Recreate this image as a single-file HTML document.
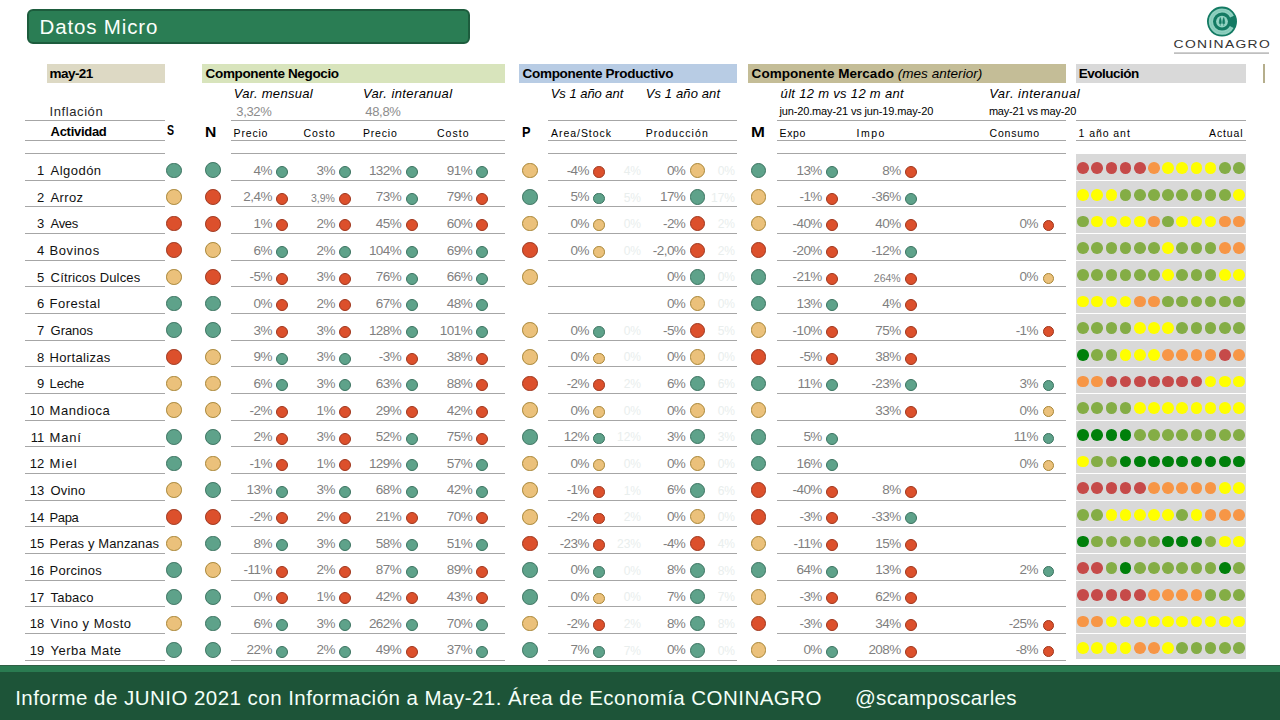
<!DOCTYPE html>
<html><head><meta charset="utf-8"><style>
*{margin:0;padding:0;box-sizing:content-box}
html,body{width:1280px;height:720px;overflow:hidden;background:#fff}
body{position:relative;font-family:"Liberation Sans", sans-serif;}
.t{position:absolute;line-height:1;white-space:nowrap;}
.r{position:absolute;}
.d{position:absolute;border-radius:50%;}
.title{position:absolute;left:27px;top:9px;width:439px;height:30.6px;background:#2a7d54;border:2px solid #1d5c3d;border-radius:6px;}
.title span{position:absolute;left:11.5px;top:5.00px;font-size:21.5px;line-height:1;color:#fbfffb;letter-spacing:0.45px;white-space:nowrap}
</style></head><body>
<div class="title"></div>
<div class="r" style="left:47.00px;top:64.00px;width:118.00px;height:19.00px;background:#ddd9c4;"></div>
<div class="r" style="left:202.00px;top:64.00px;width:303.00px;height:19.00px;background:#d8e4bc;"></div>
<div class="r" style="left:519.00px;top:64.00px;width:218.00px;height:19.00px;background:#b8cce4;"></div>
<div class="r" style="left:748.00px;top:64.00px;width:318.00px;height:19.00px;background:#c4bd97;"></div>
<div class="r" style="left:1076.00px;top:64.00px;width:170.00px;height:19.00px;background:#d9d9d9;"></div>
<div class="r" style="left:1263.00px;top:64.00px;width:1.50px;height:19.00px;background:#b5ae8c;"></div>
<div class="r" style="left:25.00px;top:120.20px;width:140.00px;height:1.00px;background:#a6a6a6;"></div>
<div class="r" style="left:25.00px;top:140.20px;width:140.00px;height:1.00px;background:#a6a6a6;"></div>
<div class="r" style="left:25.00px;top:153.00px;width:140.00px;height:1.00px;background:#a6a6a6;"></div>
<div class="r" style="left:25.00px;top:179.66px;width:140.00px;height:1.00px;background:#a6a6a6;"></div>
<div class="r" style="left:25.00px;top:206.32px;width:140.00px;height:1.00px;background:#a6a6a6;"></div>
<div class="r" style="left:25.00px;top:232.98px;width:140.00px;height:1.00px;background:#a6a6a6;"></div>
<div class="r" style="left:25.00px;top:259.64px;width:140.00px;height:1.00px;background:#a6a6a6;"></div>
<div class="r" style="left:25.00px;top:286.30px;width:140.00px;height:1.00px;background:#a6a6a6;"></div>
<div class="r" style="left:25.00px;top:312.96px;width:140.00px;height:1.00px;background:#a6a6a6;"></div>
<div class="r" style="left:25.00px;top:339.62px;width:140.00px;height:1.00px;background:#a6a6a6;"></div>
<div class="r" style="left:25.00px;top:366.28px;width:140.00px;height:1.00px;background:#a6a6a6;"></div>
<div class="r" style="left:25.00px;top:392.94px;width:140.00px;height:1.00px;background:#a6a6a6;"></div>
<div class="r" style="left:25.00px;top:419.60px;width:140.00px;height:1.00px;background:#a6a6a6;"></div>
<div class="r" style="left:25.00px;top:446.26px;width:140.00px;height:1.00px;background:#a6a6a6;"></div>
<div class="r" style="left:25.00px;top:472.92px;width:140.00px;height:1.00px;background:#a6a6a6;"></div>
<div class="r" style="left:25.00px;top:499.58px;width:140.00px;height:1.00px;background:#a6a6a6;"></div>
<div class="r" style="left:25.00px;top:526.24px;width:140.00px;height:1.00px;background:#a6a6a6;"></div>
<div class="r" style="left:25.00px;top:552.90px;width:140.00px;height:1.00px;background:#a6a6a6;"></div>
<div class="r" style="left:25.00px;top:579.56px;width:140.00px;height:1.00px;background:#a6a6a6;"></div>
<div class="r" style="left:25.00px;top:606.22px;width:140.00px;height:1.00px;background:#a6a6a6;"></div>
<div class="r" style="left:25.00px;top:632.88px;width:140.00px;height:1.00px;background:#a6a6a6;"></div>
<div class="r" style="left:25.00px;top:659.54px;width:140.00px;height:1.00px;background:#a6a6a6;"></div>
<div class="r" style="left:231.30px;top:120.20px;width:273.70px;height:1.00px;background:#a6a6a6;"></div>
<div class="r" style="left:231.30px;top:140.20px;width:273.70px;height:1.00px;background:#a6a6a6;"></div>
<div class="r" style="left:231.30px;top:153.00px;width:273.70px;height:1.00px;background:#a6a6a6;"></div>
<div class="r" style="left:231.30px;top:179.66px;width:273.70px;height:1.00px;background:#a6a6a6;"></div>
<div class="r" style="left:231.30px;top:206.32px;width:273.70px;height:1.00px;background:#a6a6a6;"></div>
<div class="r" style="left:231.30px;top:232.98px;width:273.70px;height:1.00px;background:#a6a6a6;"></div>
<div class="r" style="left:231.30px;top:259.64px;width:273.70px;height:1.00px;background:#a6a6a6;"></div>
<div class="r" style="left:231.30px;top:286.30px;width:273.70px;height:1.00px;background:#a6a6a6;"></div>
<div class="r" style="left:231.30px;top:312.96px;width:273.70px;height:1.00px;background:#a6a6a6;"></div>
<div class="r" style="left:231.30px;top:339.62px;width:273.70px;height:1.00px;background:#a6a6a6;"></div>
<div class="r" style="left:231.30px;top:366.28px;width:273.70px;height:1.00px;background:#a6a6a6;"></div>
<div class="r" style="left:231.30px;top:392.94px;width:273.70px;height:1.00px;background:#a6a6a6;"></div>
<div class="r" style="left:231.30px;top:419.60px;width:273.70px;height:1.00px;background:#a6a6a6;"></div>
<div class="r" style="left:231.30px;top:446.26px;width:273.70px;height:1.00px;background:#a6a6a6;"></div>
<div class="r" style="left:231.30px;top:472.92px;width:273.70px;height:1.00px;background:#a6a6a6;"></div>
<div class="r" style="left:231.30px;top:499.58px;width:273.70px;height:1.00px;background:#a6a6a6;"></div>
<div class="r" style="left:231.30px;top:526.24px;width:273.70px;height:1.00px;background:#a6a6a6;"></div>
<div class="r" style="left:231.30px;top:552.90px;width:273.70px;height:1.00px;background:#a6a6a6;"></div>
<div class="r" style="left:231.30px;top:579.56px;width:273.70px;height:1.00px;background:#a6a6a6;"></div>
<div class="r" style="left:231.30px;top:606.22px;width:273.70px;height:1.00px;background:#a6a6a6;"></div>
<div class="r" style="left:231.30px;top:632.88px;width:273.70px;height:1.00px;background:#a6a6a6;"></div>
<div class="r" style="left:231.30px;top:659.54px;width:273.70px;height:1.00px;background:#a6a6a6;"></div>
<div class="r" style="left:548.30px;top:120.20px;width:188.70px;height:1.00px;background:#a6a6a6;"></div>
<div class="r" style="left:548.30px;top:140.20px;width:188.70px;height:1.00px;background:#a6a6a6;"></div>
<div class="r" style="left:548.30px;top:153.00px;width:188.70px;height:1.00px;background:#a6a6a6;"></div>
<div class="r" style="left:548.30px;top:179.66px;width:188.70px;height:1.00px;background:#a6a6a6;"></div>
<div class="r" style="left:548.30px;top:206.32px;width:188.70px;height:1.00px;background:#a6a6a6;"></div>
<div class="r" style="left:548.30px;top:232.98px;width:188.70px;height:1.00px;background:#a6a6a6;"></div>
<div class="r" style="left:548.30px;top:259.64px;width:188.70px;height:1.00px;background:#a6a6a6;"></div>
<div class="r" style="left:548.30px;top:286.30px;width:188.70px;height:1.00px;background:#a6a6a6;"></div>
<div class="r" style="left:548.30px;top:312.96px;width:188.70px;height:1.00px;background:#a6a6a6;"></div>
<div class="r" style="left:548.30px;top:339.62px;width:188.70px;height:1.00px;background:#a6a6a6;"></div>
<div class="r" style="left:548.30px;top:366.28px;width:188.70px;height:1.00px;background:#a6a6a6;"></div>
<div class="r" style="left:548.30px;top:392.94px;width:188.70px;height:1.00px;background:#a6a6a6;"></div>
<div class="r" style="left:548.30px;top:419.60px;width:188.70px;height:1.00px;background:#a6a6a6;"></div>
<div class="r" style="left:548.30px;top:446.26px;width:188.70px;height:1.00px;background:#a6a6a6;"></div>
<div class="r" style="left:548.30px;top:472.92px;width:188.70px;height:1.00px;background:#a6a6a6;"></div>
<div class="r" style="left:548.30px;top:499.58px;width:188.70px;height:1.00px;background:#a6a6a6;"></div>
<div class="r" style="left:548.30px;top:526.24px;width:188.70px;height:1.00px;background:#a6a6a6;"></div>
<div class="r" style="left:548.30px;top:552.90px;width:188.70px;height:1.00px;background:#a6a6a6;"></div>
<div class="r" style="left:548.30px;top:579.56px;width:188.70px;height:1.00px;background:#a6a6a6;"></div>
<div class="r" style="left:548.30px;top:606.22px;width:188.70px;height:1.00px;background:#a6a6a6;"></div>
<div class="r" style="left:548.30px;top:632.88px;width:188.70px;height:1.00px;background:#a6a6a6;"></div>
<div class="r" style="left:548.30px;top:659.54px;width:188.70px;height:1.00px;background:#a6a6a6;"></div>
<div class="r" style="left:777.30px;top:120.20px;width:288.70px;height:1.00px;background:#a6a6a6;"></div>
<div class="r" style="left:777.30px;top:140.20px;width:288.70px;height:1.00px;background:#a6a6a6;"></div>
<div class="r" style="left:777.30px;top:153.00px;width:288.70px;height:1.00px;background:#a6a6a6;"></div>
<div class="r" style="left:777.30px;top:179.66px;width:288.70px;height:1.00px;background:#a6a6a6;"></div>
<div class="r" style="left:777.30px;top:206.32px;width:288.70px;height:1.00px;background:#a6a6a6;"></div>
<div class="r" style="left:777.30px;top:232.98px;width:288.70px;height:1.00px;background:#a6a6a6;"></div>
<div class="r" style="left:777.30px;top:259.64px;width:288.70px;height:1.00px;background:#a6a6a6;"></div>
<div class="r" style="left:777.30px;top:286.30px;width:288.70px;height:1.00px;background:#a6a6a6;"></div>
<div class="r" style="left:777.30px;top:312.96px;width:288.70px;height:1.00px;background:#a6a6a6;"></div>
<div class="r" style="left:777.30px;top:339.62px;width:288.70px;height:1.00px;background:#a6a6a6;"></div>
<div class="r" style="left:777.30px;top:366.28px;width:288.70px;height:1.00px;background:#a6a6a6;"></div>
<div class="r" style="left:777.30px;top:392.94px;width:288.70px;height:1.00px;background:#a6a6a6;"></div>
<div class="r" style="left:777.30px;top:419.60px;width:288.70px;height:1.00px;background:#a6a6a6;"></div>
<div class="r" style="left:777.30px;top:446.26px;width:288.70px;height:1.00px;background:#a6a6a6;"></div>
<div class="r" style="left:777.30px;top:472.92px;width:288.70px;height:1.00px;background:#a6a6a6;"></div>
<div class="r" style="left:777.30px;top:499.58px;width:288.70px;height:1.00px;background:#a6a6a6;"></div>
<div class="r" style="left:777.30px;top:526.24px;width:288.70px;height:1.00px;background:#a6a6a6;"></div>
<div class="r" style="left:777.30px;top:552.90px;width:288.70px;height:1.00px;background:#a6a6a6;"></div>
<div class="r" style="left:777.30px;top:579.56px;width:288.70px;height:1.00px;background:#a6a6a6;"></div>
<div class="r" style="left:777.30px;top:606.22px;width:288.70px;height:1.00px;background:#a6a6a6;"></div>
<div class="r" style="left:777.30px;top:632.88px;width:288.70px;height:1.00px;background:#a6a6a6;"></div>
<div class="r" style="left:777.30px;top:659.54px;width:288.70px;height:1.00px;background:#a6a6a6;"></div>
<div class="r" style="left:1076.00px;top:120.20px;width:170.00px;height:1.00px;background:#a6a6a6;"></div>
<div class="r" style="left:1076.00px;top:140.20px;width:170.00px;height:1.00px;background:#a6a6a6;"></div>
<div class="r" style="left:1076.00px;top:153.90px;width:170.00px;height:505.10px;background:#d9d9d9;"></div>
<div class="r" style="left:1076.00px;top:180.00px;width:170.00px;height:1.00px;background:#ffffff;"></div>
<div class="r" style="left:1076.00px;top:207.00px;width:170.00px;height:1.00px;background:#ffffff;"></div>
<div class="r" style="left:1076.00px;top:233.00px;width:170.00px;height:1.00px;background:#ffffff;"></div>
<div class="r" style="left:1076.00px;top:260.00px;width:170.00px;height:1.00px;background:#ffffff;"></div>
<div class="r" style="left:1076.00px;top:287.00px;width:170.00px;height:1.00px;background:#ffffff;"></div>
<div class="r" style="left:1076.00px;top:313.00px;width:170.00px;height:1.00px;background:#ffffff;"></div>
<div class="r" style="left:1076.00px;top:340.00px;width:170.00px;height:1.00px;background:#ffffff;"></div>
<div class="r" style="left:1076.00px;top:367.00px;width:170.00px;height:1.00px;background:#ffffff;"></div>
<div class="r" style="left:1076.00px;top:393.00px;width:170.00px;height:1.00px;background:#ffffff;"></div>
<div class="r" style="left:1076.00px;top:420.00px;width:170.00px;height:1.00px;background:#ffffff;"></div>
<div class="r" style="left:1076.00px;top:447.00px;width:170.00px;height:1.00px;background:#ffffff;"></div>
<div class="r" style="left:1076.00px;top:473.00px;width:170.00px;height:1.00px;background:#ffffff;"></div>
<div class="r" style="left:1076.00px;top:500.00px;width:170.00px;height:1.00px;background:#ffffff;"></div>
<div class="r" style="left:1076.00px;top:527.00px;width:170.00px;height:1.00px;background:#ffffff;"></div>
<div class="r" style="left:1076.00px;top:553.00px;width:170.00px;height:1.00px;background:#ffffff;"></div>
<div class="r" style="left:1076.00px;top:580.00px;width:170.00px;height:1.00px;background:#ffffff;"></div>
<div class="r" style="left:1076.00px;top:607.00px;width:170.00px;height:1.00px;background:#ffffff;"></div>
<div class="r" style="left:1076.00px;top:633.00px;width:170.00px;height:1.00px;background:#ffffff;"></div>
<div class="t" style="top:164.00px;font-size:13px;color:#111;right:1235.80px;text-align:right;">1</div>
<div class="d" style="left:166.10px;top:162.50px;width:13.60px;height:13.60px;background:#5ea28a;border:1px solid #3a725f;"></div>
<div class="d" style="left:205.00px;top:162.40px;width:13.80px;height:13.80px;background:#5ea28a;border:1px solid #3a725f;"></div>
<div class="t" style="top:163.57px;font-size:13.5px;color:#7f7f7f;letter-spacing:-0.55px;right:1008.10px;text-align:right;">4%</div>
<div class="d" style="left:276.00px;top:165.90px;width:10.00px;height:10.00px;background:#5ea28a;border:1px solid #3a725f;"></div>
<div class="t" style="top:163.57px;font-size:13.5px;color:#7f7f7f;letter-spacing:-0.55px;right:945.10px;text-align:right;">3%</div>
<div class="d" style="left:338.80px;top:165.90px;width:10.00px;height:10.00px;background:#5ea28a;border:1px solid #3a725f;"></div>
<div class="t" style="top:163.57px;font-size:13.5px;color:#7f7f7f;letter-spacing:-0.55px;right:878.80px;text-align:right;">132%</div>
<div class="d" style="left:405.50px;top:165.90px;width:10.00px;height:10.00px;background:#5ea28a;border:1px solid #3a725f;"></div>
<div class="t" style="top:163.57px;font-size:13.5px;color:#7f7f7f;letter-spacing:-0.55px;right:807.90px;text-align:right;">91%</div>
<div class="d" style="left:476.00px;top:165.90px;width:10.00px;height:10.00px;background:#5ea28a;border:1px solid #3a725f;"></div>
<div class="d" style="left:522.20px;top:162.50px;width:13.60px;height:13.60px;background:#ebc17b;border:1px solid #a88535;"></div>
<div class="t" style="top:163.57px;font-size:13.5px;color:#7f7f7f;letter-spacing:-0.55px;right:691.00px;text-align:right;">-4%</div>
<div class="d" style="left:593.20px;top:166.10px;width:9.60px;height:9.60px;background:#dc502c;border:1px solid #9e351b;"></div>
<div class="t" style="top:164.84px;font-size:12px;color:#e9eeed;right:639.00px;text-align:right;">4%</div>
<div class="t" style="top:163.57px;font-size:13.5px;color:#7f7f7f;letter-spacing:-0.55px;right:594.70px;text-align:right;">0%</div>
<div class="d" style="left:689.60px;top:162.70px;width:13.20px;height:13.20px;background:#ebc17b;border:1px solid #a88535;"></div>
<div class="t" style="top:164.84px;font-size:12px;color:#e9eeed;right:545.00px;text-align:right;">0%</div>
<div class="d" style="left:750.70px;top:162.50px;width:13.60px;height:13.60px;background:#5ea28a;border:1px solid #3a725f;"></div>
<div class="t" style="top:163.57px;font-size:13.5px;color:#7f7f7f;letter-spacing:-0.55px;right:458.20px;text-align:right;">13%</div>
<div class="d" style="left:825.90px;top:165.90px;width:10.00px;height:10.00px;background:#5ea28a;border:1px solid #3a725f;"></div>
<div class="t" style="top:163.57px;font-size:13.5px;color:#7f7f7f;letter-spacing:-0.55px;right:379.30px;text-align:right;">8%</div>
<div class="d" style="left:904.80px;top:165.90px;width:10.00px;height:10.00px;background:#dc502c;border:1px solid #9e351b;"></div>
<div class="d" style="left:1077.25px;top:162.45px;width:11.70px;height:11.70px;background:#c64a49;"></div>
<div class="d" style="left:1091.42px;top:162.45px;width:11.70px;height:11.70px;background:#c64a49;"></div>
<div class="d" style="left:1105.59px;top:162.45px;width:11.70px;height:11.70px;background:#c64a49;"></div>
<div class="d" style="left:1119.76px;top:162.45px;width:11.70px;height:11.70px;background:#c64a49;"></div>
<div class="d" style="left:1133.93px;top:162.45px;width:11.70px;height:11.70px;background:#c64a49;"></div>
<div class="d" style="left:1148.10px;top:162.45px;width:11.70px;height:11.70px;background:#f79646;"></div>
<div class="d" style="left:1162.27px;top:162.45px;width:11.70px;height:11.70px;background:#ffff00;"></div>
<div class="d" style="left:1176.44px;top:162.45px;width:11.70px;height:11.70px;background:#ffff00;"></div>
<div class="d" style="left:1190.61px;top:162.45px;width:11.70px;height:11.70px;background:#ffff00;"></div>
<div class="d" style="left:1204.78px;top:162.45px;width:11.70px;height:11.70px;background:#ffff00;"></div>
<div class="d" style="left:1218.95px;top:162.45px;width:11.70px;height:11.70px;background:#84ad45;"></div>
<div class="d" style="left:1233.12px;top:162.45px;width:11.70px;height:11.70px;background:#84ad45;"></div>
<div class="t" style="top:190.66px;font-size:13px;color:#111;right:1235.80px;text-align:right;">2</div>
<div class="d" style="left:166.10px;top:189.16px;width:13.60px;height:13.60px;background:#ebc17b;border:1px solid #a88535;"></div>
<div class="d" style="left:205.00px;top:189.06px;width:13.80px;height:13.80px;background:#dc502c;border:1px solid #9e351b;"></div>
<div class="t" style="top:190.23px;font-size:13.5px;color:#7f7f7f;letter-spacing:-0.55px;right:1008.10px;text-align:right;">2,4%</div>
<div class="d" style="left:276.00px;top:192.56px;width:10.00px;height:10.00px;background:#dc502c;border:1px solid #9e351b;"></div>
<div class="t" style="top:192.77px;font-size:10.5px;color:#7f7f7f;right:945.10px;text-align:right;">3,9%</div>
<div class="d" style="left:338.80px;top:192.56px;width:10.00px;height:10.00px;background:#dc502c;border:1px solid #9e351b;"></div>
<div class="t" style="top:190.23px;font-size:13.5px;color:#7f7f7f;letter-spacing:-0.55px;right:878.80px;text-align:right;">73%</div>
<div class="d" style="left:405.50px;top:192.56px;width:10.00px;height:10.00px;background:#5ea28a;border:1px solid #3a725f;"></div>
<div class="t" style="top:190.23px;font-size:13.5px;color:#7f7f7f;letter-spacing:-0.55px;right:807.90px;text-align:right;">79%</div>
<div class="d" style="left:476.00px;top:192.56px;width:10.00px;height:10.00px;background:#dc502c;border:1px solid #9e351b;"></div>
<div class="d" style="left:522.20px;top:189.16px;width:13.60px;height:13.60px;background:#5ea28a;border:1px solid #3a725f;"></div>
<div class="t" style="top:190.23px;font-size:13.5px;color:#7f7f7f;letter-spacing:-0.55px;right:691.00px;text-align:right;">5%</div>
<div class="d" style="left:593.20px;top:192.76px;width:9.60px;height:9.60px;background:#5ea28a;border:1px solid #3a725f;"></div>
<div class="t" style="top:191.50px;font-size:12px;color:#e9eeed;right:639.00px;text-align:right;">5%</div>
<div class="t" style="top:190.23px;font-size:13.5px;color:#7f7f7f;letter-spacing:-0.55px;right:594.70px;text-align:right;">17%</div>
<div class="d" style="left:689.60px;top:189.36px;width:13.20px;height:13.20px;background:#5ea28a;border:1px solid #3a725f;"></div>
<div class="t" style="top:191.50px;font-size:12px;color:#e9eeed;right:545.00px;text-align:right;">17%</div>
<div class="d" style="left:750.70px;top:189.16px;width:13.60px;height:13.60px;background:#ebc17b;border:1px solid #a88535;"></div>
<div class="t" style="top:190.23px;font-size:13.5px;color:#7f7f7f;letter-spacing:-0.55px;right:458.20px;text-align:right;">-1%</div>
<div class="d" style="left:825.90px;top:192.56px;width:10.00px;height:10.00px;background:#dc502c;border:1px solid #9e351b;"></div>
<div class="t" style="top:190.23px;font-size:13.5px;color:#7f7f7f;letter-spacing:-0.55px;right:379.30px;text-align:right;">-36%</div>
<div class="d" style="left:904.80px;top:192.56px;width:10.00px;height:10.00px;background:#5ea28a;border:1px solid #3a725f;"></div>
<div class="d" style="left:1077.25px;top:189.11px;width:11.70px;height:11.70px;background:#ffff00;"></div>
<div class="d" style="left:1091.42px;top:189.11px;width:11.70px;height:11.70px;background:#ffff00;"></div>
<div class="d" style="left:1105.59px;top:189.11px;width:11.70px;height:11.70px;background:#ffff00;"></div>
<div class="d" style="left:1119.76px;top:189.11px;width:11.70px;height:11.70px;background:#84ad45;"></div>
<div class="d" style="left:1133.93px;top:189.11px;width:11.70px;height:11.70px;background:#84ad45;"></div>
<div class="d" style="left:1148.10px;top:189.11px;width:11.70px;height:11.70px;background:#84ad45;"></div>
<div class="d" style="left:1162.27px;top:189.11px;width:11.70px;height:11.70px;background:#84ad45;"></div>
<div class="d" style="left:1176.44px;top:189.11px;width:11.70px;height:11.70px;background:#84ad45;"></div>
<div class="d" style="left:1190.61px;top:189.11px;width:11.70px;height:11.70px;background:#84ad45;"></div>
<div class="d" style="left:1204.78px;top:189.11px;width:11.70px;height:11.70px;background:#84ad45;"></div>
<div class="d" style="left:1218.95px;top:189.11px;width:11.70px;height:11.70px;background:#84ad45;"></div>
<div class="d" style="left:1233.12px;top:189.11px;width:11.70px;height:11.70px;background:#ffff00;"></div>
<div class="t" style="top:217.32px;font-size:13px;color:#111;right:1235.80px;text-align:right;">3</div>
<div class="d" style="left:166.10px;top:215.82px;width:13.60px;height:13.60px;background:#dc502c;border:1px solid #9e351b;"></div>
<div class="d" style="left:205.00px;top:215.72px;width:13.80px;height:13.80px;background:#dc502c;border:1px solid #9e351b;"></div>
<div class="t" style="top:216.89px;font-size:13.5px;color:#7f7f7f;letter-spacing:-0.55px;right:1008.10px;text-align:right;">1%</div>
<div class="d" style="left:276.00px;top:219.22px;width:10.00px;height:10.00px;background:#dc502c;border:1px solid #9e351b;"></div>
<div class="t" style="top:216.89px;font-size:13.5px;color:#7f7f7f;letter-spacing:-0.55px;right:945.10px;text-align:right;">2%</div>
<div class="d" style="left:338.80px;top:219.22px;width:10.00px;height:10.00px;background:#dc502c;border:1px solid #9e351b;"></div>
<div class="t" style="top:216.89px;font-size:13.5px;color:#7f7f7f;letter-spacing:-0.55px;right:878.80px;text-align:right;">45%</div>
<div class="d" style="left:405.50px;top:219.22px;width:10.00px;height:10.00px;background:#dc502c;border:1px solid #9e351b;"></div>
<div class="t" style="top:216.89px;font-size:13.5px;color:#7f7f7f;letter-spacing:-0.55px;right:807.90px;text-align:right;">60%</div>
<div class="d" style="left:476.00px;top:219.22px;width:10.00px;height:10.00px;background:#dc502c;border:1px solid #9e351b;"></div>
<div class="d" style="left:522.20px;top:215.82px;width:13.60px;height:13.60px;background:#ebc17b;border:1px solid #a88535;"></div>
<div class="t" style="top:216.89px;font-size:13.5px;color:#7f7f7f;letter-spacing:-0.55px;right:691.00px;text-align:right;">0%</div>
<div class="d" style="left:593.20px;top:219.42px;width:9.60px;height:9.60px;background:#ebc17b;border:1px solid #a88535;"></div>
<div class="t" style="top:218.16px;font-size:12px;color:#e9eeed;right:639.00px;text-align:right;">0%</div>
<div class="t" style="top:216.89px;font-size:13.5px;color:#7f7f7f;letter-spacing:-0.55px;right:594.70px;text-align:right;">-2%</div>
<div class="d" style="left:689.60px;top:216.02px;width:13.20px;height:13.20px;background:#dc502c;border:1px solid #9e351b;"></div>
<div class="t" style="top:218.16px;font-size:12px;color:#e9eeed;right:545.00px;text-align:right;">2%</div>
<div class="d" style="left:750.70px;top:215.82px;width:13.60px;height:13.60px;background:#ebc17b;border:1px solid #a88535;"></div>
<div class="t" style="top:216.89px;font-size:13.5px;color:#7f7f7f;letter-spacing:-0.55px;right:458.20px;text-align:right;">-40%</div>
<div class="d" style="left:825.90px;top:219.22px;width:10.00px;height:10.00px;background:#dc502c;border:1px solid #9e351b;"></div>
<div class="t" style="top:216.89px;font-size:13.5px;color:#7f7f7f;letter-spacing:-0.55px;right:379.30px;text-align:right;">40%</div>
<div class="d" style="left:904.80px;top:219.22px;width:10.00px;height:10.00px;background:#dc502c;border:1px solid #9e351b;"></div>
<div class="t" style="top:216.89px;font-size:13.5px;color:#7f7f7f;letter-spacing:-0.55px;right:242.00px;text-align:right;">0%</div>
<div class="d" style="left:1042.60px;top:219.72px;width:9.00px;height:9.00px;background:#dc502c;border:1px solid #9e351b;"></div>
<div class="d" style="left:1077.25px;top:215.77px;width:11.70px;height:11.70px;background:#84ad45;"></div>
<div class="d" style="left:1091.42px;top:215.77px;width:11.70px;height:11.70px;background:#ffff00;"></div>
<div class="d" style="left:1105.59px;top:215.77px;width:11.70px;height:11.70px;background:#ffff00;"></div>
<div class="d" style="left:1119.76px;top:215.77px;width:11.70px;height:11.70px;background:#ffff00;"></div>
<div class="d" style="left:1133.93px;top:215.77px;width:11.70px;height:11.70px;background:#ffff00;"></div>
<div class="d" style="left:1148.10px;top:215.77px;width:11.70px;height:11.70px;background:#f79646;"></div>
<div class="d" style="left:1162.27px;top:215.77px;width:11.70px;height:11.70px;background:#84ad45;"></div>
<div class="d" style="left:1176.44px;top:215.77px;width:11.70px;height:11.70px;background:#ffff00;"></div>
<div class="d" style="left:1190.61px;top:215.77px;width:11.70px;height:11.70px;background:#ffff00;"></div>
<div class="d" style="left:1204.78px;top:215.77px;width:11.70px;height:11.70px;background:#ffff00;"></div>
<div class="d" style="left:1218.95px;top:215.77px;width:11.70px;height:11.70px;background:#f79646;"></div>
<div class="d" style="left:1233.12px;top:215.77px;width:11.70px;height:11.70px;background:#f79646;"></div>
<div class="t" style="top:243.98px;font-size:13px;color:#111;right:1235.80px;text-align:right;">4</div>
<div class="d" style="left:166.10px;top:242.48px;width:13.60px;height:13.60px;background:#dc502c;border:1px solid #9e351b;"></div>
<div class="d" style="left:205.00px;top:242.38px;width:13.80px;height:13.80px;background:#ebc17b;border:1px solid #a88535;"></div>
<div class="t" style="top:243.55px;font-size:13.5px;color:#7f7f7f;letter-spacing:-0.55px;right:1008.10px;text-align:right;">6%</div>
<div class="d" style="left:276.00px;top:245.88px;width:10.00px;height:10.00px;background:#5ea28a;border:1px solid #3a725f;"></div>
<div class="t" style="top:243.55px;font-size:13.5px;color:#7f7f7f;letter-spacing:-0.55px;right:945.10px;text-align:right;">2%</div>
<div class="d" style="left:338.80px;top:245.88px;width:10.00px;height:10.00px;background:#5ea28a;border:1px solid #3a725f;"></div>
<div class="t" style="top:243.55px;font-size:13.5px;color:#7f7f7f;letter-spacing:-0.55px;right:878.80px;text-align:right;">104%</div>
<div class="d" style="left:405.50px;top:245.88px;width:10.00px;height:10.00px;background:#5ea28a;border:1px solid #3a725f;"></div>
<div class="t" style="top:243.55px;font-size:13.5px;color:#7f7f7f;letter-spacing:-0.55px;right:807.90px;text-align:right;">69%</div>
<div class="d" style="left:476.00px;top:245.88px;width:10.00px;height:10.00px;background:#5ea28a;border:1px solid #3a725f;"></div>
<div class="d" style="left:522.20px;top:242.48px;width:13.60px;height:13.60px;background:#dc502c;border:1px solid #9e351b;"></div>
<div class="t" style="top:243.55px;font-size:13.5px;color:#7f7f7f;letter-spacing:-0.55px;right:691.00px;text-align:right;">0%</div>
<div class="d" style="left:593.20px;top:246.08px;width:9.60px;height:9.60px;background:#ebc17b;border:1px solid #a88535;"></div>
<div class="t" style="top:244.82px;font-size:12px;color:#e9eeed;right:639.00px;text-align:right;">0%</div>
<div class="t" style="top:243.55px;font-size:13.5px;color:#7f7f7f;letter-spacing:-0.55px;right:594.70px;text-align:right;">-2,0%</div>
<div class="d" style="left:689.60px;top:242.68px;width:13.20px;height:13.20px;background:#dc502c;border:1px solid #9e351b;"></div>
<div class="t" style="top:244.82px;font-size:12px;color:#e9eeed;right:545.00px;text-align:right;">2%</div>
<div class="d" style="left:750.70px;top:242.48px;width:13.60px;height:13.60px;background:#dc502c;border:1px solid #9e351b;"></div>
<div class="t" style="top:243.55px;font-size:13.5px;color:#7f7f7f;letter-spacing:-0.55px;right:458.20px;text-align:right;">-20%</div>
<div class="d" style="left:825.90px;top:245.88px;width:10.00px;height:10.00px;background:#dc502c;border:1px solid #9e351b;"></div>
<div class="t" style="top:243.55px;font-size:13.5px;color:#7f7f7f;letter-spacing:-0.55px;right:379.30px;text-align:right;">-12%</div>
<div class="d" style="left:904.80px;top:245.88px;width:10.00px;height:10.00px;background:#5ea28a;border:1px solid #3a725f;"></div>
<div class="d" style="left:1077.25px;top:242.43px;width:11.70px;height:11.70px;background:#84ad45;"></div>
<div class="d" style="left:1091.42px;top:242.43px;width:11.70px;height:11.70px;background:#84ad45;"></div>
<div class="d" style="left:1105.59px;top:242.43px;width:11.70px;height:11.70px;background:#84ad45;"></div>
<div class="d" style="left:1119.76px;top:242.43px;width:11.70px;height:11.70px;background:#84ad45;"></div>
<div class="d" style="left:1133.93px;top:242.43px;width:11.70px;height:11.70px;background:#84ad45;"></div>
<div class="d" style="left:1148.10px;top:242.43px;width:11.70px;height:11.70px;background:#84ad45;"></div>
<div class="d" style="left:1162.27px;top:242.43px;width:11.70px;height:11.70px;background:#ffff00;"></div>
<div class="d" style="left:1176.44px;top:242.43px;width:11.70px;height:11.70px;background:#84ad45;"></div>
<div class="d" style="left:1190.61px;top:242.43px;width:11.70px;height:11.70px;background:#84ad45;"></div>
<div class="d" style="left:1204.78px;top:242.43px;width:11.70px;height:11.70px;background:#84ad45;"></div>
<div class="d" style="left:1218.95px;top:242.43px;width:11.70px;height:11.70px;background:#f79646;"></div>
<div class="d" style="left:1233.12px;top:242.43px;width:11.70px;height:11.70px;background:#f79646;"></div>
<div class="t" style="top:270.64px;font-size:13px;color:#111;right:1235.80px;text-align:right;">5</div>
<div class="d" style="left:166.10px;top:269.14px;width:13.60px;height:13.60px;background:#ebc17b;border:1px solid #a88535;"></div>
<div class="d" style="left:205.00px;top:269.04px;width:13.80px;height:13.80px;background:#dc502c;border:1px solid #9e351b;"></div>
<div class="t" style="top:270.21px;font-size:13.5px;color:#7f7f7f;letter-spacing:-0.55px;right:1008.10px;text-align:right;">-5%</div>
<div class="d" style="left:276.00px;top:272.54px;width:10.00px;height:10.00px;background:#dc502c;border:1px solid #9e351b;"></div>
<div class="t" style="top:270.21px;font-size:13.5px;color:#7f7f7f;letter-spacing:-0.55px;right:945.10px;text-align:right;">3%</div>
<div class="d" style="left:338.80px;top:272.54px;width:10.00px;height:10.00px;background:#dc502c;border:1px solid #9e351b;"></div>
<div class="t" style="top:270.21px;font-size:13.5px;color:#7f7f7f;letter-spacing:-0.55px;right:878.80px;text-align:right;">76%</div>
<div class="d" style="left:405.50px;top:272.54px;width:10.00px;height:10.00px;background:#5ea28a;border:1px solid #3a725f;"></div>
<div class="t" style="top:270.21px;font-size:13.5px;color:#7f7f7f;letter-spacing:-0.55px;right:807.90px;text-align:right;">66%</div>
<div class="d" style="left:476.00px;top:272.54px;width:10.00px;height:10.00px;background:#5ea28a;border:1px solid #3a725f;"></div>
<div class="d" style="left:522.20px;top:269.14px;width:13.60px;height:13.60px;background:#ebc17b;border:1px solid #a88535;"></div>
<div class="t" style="top:270.21px;font-size:13.5px;color:#7f7f7f;letter-spacing:-0.55px;right:594.70px;text-align:right;">0%</div>
<div class="d" style="left:689.60px;top:269.34px;width:13.20px;height:13.20px;background:#5ea28a;border:1px solid #3a725f;"></div>
<div class="t" style="top:271.48px;font-size:12px;color:#e9eeed;right:545.00px;text-align:right;">0%</div>
<div class="d" style="left:750.70px;top:269.14px;width:13.60px;height:13.60px;background:#5ea28a;border:1px solid #3a725f;"></div>
<div class="t" style="top:270.21px;font-size:13.5px;color:#7f7f7f;letter-spacing:-0.55px;right:458.20px;text-align:right;">-21%</div>
<div class="d" style="left:825.90px;top:272.54px;width:10.00px;height:10.00px;background:#dc502c;border:1px solid #9e351b;"></div>
<div class="t" style="top:272.75px;font-size:10.5px;color:#7f7f7f;right:379.30px;text-align:right;">264%</div>
<div class="d" style="left:904.80px;top:272.54px;width:10.00px;height:10.00px;background:#dc502c;border:1px solid #9e351b;"></div>
<div class="t" style="top:270.21px;font-size:13.5px;color:#7f7f7f;letter-spacing:-0.55px;right:242.00px;text-align:right;">0%</div>
<div class="d" style="left:1042.60px;top:273.04px;width:9.00px;height:9.00px;background:#ebc17b;border:1px solid #a88535;"></div>
<div class="d" style="left:1077.25px;top:269.09px;width:11.70px;height:11.70px;background:#84ad45;"></div>
<div class="d" style="left:1091.42px;top:269.09px;width:11.70px;height:11.70px;background:#84ad45;"></div>
<div class="d" style="left:1105.59px;top:269.09px;width:11.70px;height:11.70px;background:#84ad45;"></div>
<div class="d" style="left:1119.76px;top:269.09px;width:11.70px;height:11.70px;background:#84ad45;"></div>
<div class="d" style="left:1133.93px;top:269.09px;width:11.70px;height:11.70px;background:#84ad45;"></div>
<div class="d" style="left:1148.10px;top:269.09px;width:11.70px;height:11.70px;background:#84ad45;"></div>
<div class="d" style="left:1162.27px;top:269.09px;width:11.70px;height:11.70px;background:#ffff00;"></div>
<div class="d" style="left:1176.44px;top:269.09px;width:11.70px;height:11.70px;background:#84ad45;"></div>
<div class="d" style="left:1190.61px;top:269.09px;width:11.70px;height:11.70px;background:#84ad45;"></div>
<div class="d" style="left:1204.78px;top:269.09px;width:11.70px;height:11.70px;background:#84ad45;"></div>
<div class="d" style="left:1218.95px;top:269.09px;width:11.70px;height:11.70px;background:#ffff00;"></div>
<div class="d" style="left:1233.12px;top:269.09px;width:11.70px;height:11.70px;background:#ffff00;"></div>
<div class="t" style="top:297.30px;font-size:13px;color:#111;right:1235.80px;text-align:right;">6</div>
<div class="d" style="left:166.10px;top:295.80px;width:13.60px;height:13.60px;background:#5ea28a;border:1px solid #3a725f;"></div>
<div class="d" style="left:205.00px;top:295.70px;width:13.80px;height:13.80px;background:#5ea28a;border:1px solid #3a725f;"></div>
<div class="t" style="top:296.87px;font-size:13.5px;color:#7f7f7f;letter-spacing:-0.55px;right:1008.10px;text-align:right;">0%</div>
<div class="d" style="left:276.00px;top:299.20px;width:10.00px;height:10.00px;background:#dc502c;border:1px solid #9e351b;"></div>
<div class="t" style="top:296.87px;font-size:13.5px;color:#7f7f7f;letter-spacing:-0.55px;right:945.10px;text-align:right;">2%</div>
<div class="d" style="left:338.80px;top:299.20px;width:10.00px;height:10.00px;background:#dc502c;border:1px solid #9e351b;"></div>
<div class="t" style="top:296.87px;font-size:13.5px;color:#7f7f7f;letter-spacing:-0.55px;right:878.80px;text-align:right;">67%</div>
<div class="d" style="left:405.50px;top:299.20px;width:10.00px;height:10.00px;background:#5ea28a;border:1px solid #3a725f;"></div>
<div class="t" style="top:296.87px;font-size:13.5px;color:#7f7f7f;letter-spacing:-0.55px;right:807.90px;text-align:right;">48%</div>
<div class="d" style="left:476.00px;top:299.20px;width:10.00px;height:10.00px;background:#5ea28a;border:1px solid #3a725f;"></div>
<div class="t" style="top:296.87px;font-size:13.5px;color:#7f7f7f;letter-spacing:-0.55px;right:594.70px;text-align:right;">0%</div>
<div class="d" style="left:689.60px;top:296.00px;width:13.20px;height:13.20px;background:#ebc17b;border:1px solid #a88535;"></div>
<div class="t" style="top:298.14px;font-size:12px;color:#e9eeed;right:545.00px;text-align:right;">0%</div>
<div class="d" style="left:750.70px;top:295.80px;width:13.60px;height:13.60px;background:#5ea28a;border:1px solid #3a725f;"></div>
<div class="t" style="top:296.87px;font-size:13.5px;color:#7f7f7f;letter-spacing:-0.55px;right:458.20px;text-align:right;">13%</div>
<div class="d" style="left:825.90px;top:299.20px;width:10.00px;height:10.00px;background:#5ea28a;border:1px solid #3a725f;"></div>
<div class="t" style="top:296.87px;font-size:13.5px;color:#7f7f7f;letter-spacing:-0.55px;right:379.30px;text-align:right;">4%</div>
<div class="d" style="left:904.80px;top:299.20px;width:10.00px;height:10.00px;background:#dc502c;border:1px solid #9e351b;"></div>
<div class="d" style="left:1077.25px;top:295.75px;width:11.70px;height:11.70px;background:#ffff00;"></div>
<div class="d" style="left:1091.42px;top:295.75px;width:11.70px;height:11.70px;background:#ffff00;"></div>
<div class="d" style="left:1105.59px;top:295.75px;width:11.70px;height:11.70px;background:#ffff00;"></div>
<div class="d" style="left:1119.76px;top:295.75px;width:11.70px;height:11.70px;background:#ffff00;"></div>
<div class="d" style="left:1133.93px;top:295.75px;width:11.70px;height:11.70px;background:#f79646;"></div>
<div class="d" style="left:1148.10px;top:295.75px;width:11.70px;height:11.70px;background:#f79646;"></div>
<div class="d" style="left:1162.27px;top:295.75px;width:11.70px;height:11.70px;background:#84ad45;"></div>
<div class="d" style="left:1176.44px;top:295.75px;width:11.70px;height:11.70px;background:#84ad45;"></div>
<div class="d" style="left:1190.61px;top:295.75px;width:11.70px;height:11.70px;background:#84ad45;"></div>
<div class="d" style="left:1204.78px;top:295.75px;width:11.70px;height:11.70px;background:#84ad45;"></div>
<div class="d" style="left:1218.95px;top:295.75px;width:11.70px;height:11.70px;background:#84ad45;"></div>
<div class="d" style="left:1233.12px;top:295.75px;width:11.70px;height:11.70px;background:#84ad45;"></div>
<div class="t" style="top:323.96px;font-size:13px;color:#111;right:1235.80px;text-align:right;">7</div>
<div class="d" style="left:166.10px;top:322.46px;width:13.60px;height:13.60px;background:#5ea28a;border:1px solid #3a725f;"></div>
<div class="d" style="left:205.00px;top:322.36px;width:13.80px;height:13.80px;background:#5ea28a;border:1px solid #3a725f;"></div>
<div class="t" style="top:323.53px;font-size:13.5px;color:#7f7f7f;letter-spacing:-0.55px;right:1008.10px;text-align:right;">3%</div>
<div class="d" style="left:276.00px;top:325.86px;width:10.00px;height:10.00px;background:#dc502c;border:1px solid #9e351b;"></div>
<div class="t" style="top:323.53px;font-size:13.5px;color:#7f7f7f;letter-spacing:-0.55px;right:945.10px;text-align:right;">3%</div>
<div class="d" style="left:338.80px;top:325.86px;width:10.00px;height:10.00px;background:#dc502c;border:1px solid #9e351b;"></div>
<div class="t" style="top:323.53px;font-size:13.5px;color:#7f7f7f;letter-spacing:-0.55px;right:878.80px;text-align:right;">128%</div>
<div class="d" style="left:405.50px;top:325.86px;width:10.00px;height:10.00px;background:#5ea28a;border:1px solid #3a725f;"></div>
<div class="t" style="top:323.53px;font-size:13.5px;color:#7f7f7f;letter-spacing:-0.55px;right:807.90px;text-align:right;">101%</div>
<div class="d" style="left:476.00px;top:325.86px;width:10.00px;height:10.00px;background:#5ea28a;border:1px solid #3a725f;"></div>
<div class="d" style="left:522.20px;top:322.46px;width:13.60px;height:13.60px;background:#ebc17b;border:1px solid #a88535;"></div>
<div class="t" style="top:323.53px;font-size:13.5px;color:#7f7f7f;letter-spacing:-0.55px;right:691.00px;text-align:right;">0%</div>
<div class="d" style="left:593.20px;top:326.06px;width:9.60px;height:9.60px;background:#5ea28a;border:1px solid #3a725f;"></div>
<div class="t" style="top:324.80px;font-size:12px;color:#e9eeed;right:639.00px;text-align:right;">0%</div>
<div class="t" style="top:323.53px;font-size:13.5px;color:#7f7f7f;letter-spacing:-0.55px;right:594.70px;text-align:right;">-5%</div>
<div class="d" style="left:689.60px;top:322.66px;width:13.20px;height:13.20px;background:#dc502c;border:1px solid #9e351b;"></div>
<div class="t" style="top:324.80px;font-size:12px;color:#e9eeed;right:545.00px;text-align:right;">5%</div>
<div class="d" style="left:750.70px;top:322.46px;width:13.60px;height:13.60px;background:#ebc17b;border:1px solid #a88535;"></div>
<div class="t" style="top:323.53px;font-size:13.5px;color:#7f7f7f;letter-spacing:-0.55px;right:458.20px;text-align:right;">-10%</div>
<div class="d" style="left:825.90px;top:325.86px;width:10.00px;height:10.00px;background:#dc502c;border:1px solid #9e351b;"></div>
<div class="t" style="top:323.53px;font-size:13.5px;color:#7f7f7f;letter-spacing:-0.55px;right:379.30px;text-align:right;">75%</div>
<div class="d" style="left:904.80px;top:325.86px;width:10.00px;height:10.00px;background:#dc502c;border:1px solid #9e351b;"></div>
<div class="t" style="top:323.53px;font-size:13.5px;color:#7f7f7f;letter-spacing:-0.55px;right:242.00px;text-align:right;">-1%</div>
<div class="d" style="left:1042.60px;top:326.36px;width:9.00px;height:9.00px;background:#dc502c;border:1px solid #9e351b;"></div>
<div class="d" style="left:1077.25px;top:322.41px;width:11.70px;height:11.70px;background:#84ad45;"></div>
<div class="d" style="left:1091.42px;top:322.41px;width:11.70px;height:11.70px;background:#84ad45;"></div>
<div class="d" style="left:1105.59px;top:322.41px;width:11.70px;height:11.70px;background:#84ad45;"></div>
<div class="d" style="left:1119.76px;top:322.41px;width:11.70px;height:11.70px;background:#84ad45;"></div>
<div class="d" style="left:1133.93px;top:322.41px;width:11.70px;height:11.70px;background:#ffff00;"></div>
<div class="d" style="left:1148.10px;top:322.41px;width:11.70px;height:11.70px;background:#ffff00;"></div>
<div class="d" style="left:1162.27px;top:322.41px;width:11.70px;height:11.70px;background:#ffff00;"></div>
<div class="d" style="left:1176.44px;top:322.41px;width:11.70px;height:11.70px;background:#84ad45;"></div>
<div class="d" style="left:1190.61px;top:322.41px;width:11.70px;height:11.70px;background:#84ad45;"></div>
<div class="d" style="left:1204.78px;top:322.41px;width:11.70px;height:11.70px;background:#84ad45;"></div>
<div class="d" style="left:1218.95px;top:322.41px;width:11.70px;height:11.70px;background:#84ad45;"></div>
<div class="d" style="left:1233.12px;top:322.41px;width:11.70px;height:11.70px;background:#84ad45;"></div>
<div class="t" style="top:350.62px;font-size:13px;color:#111;right:1235.80px;text-align:right;">8</div>
<div class="d" style="left:166.10px;top:349.12px;width:13.60px;height:13.60px;background:#dc502c;border:1px solid #9e351b;"></div>
<div class="d" style="left:205.00px;top:349.02px;width:13.80px;height:13.80px;background:#ebc17b;border:1px solid #a88535;"></div>
<div class="t" style="top:350.19px;font-size:13.5px;color:#7f7f7f;letter-spacing:-0.55px;right:1008.10px;text-align:right;">9%</div>
<div class="d" style="left:276.00px;top:352.52px;width:10.00px;height:10.00px;background:#5ea28a;border:1px solid #3a725f;"></div>
<div class="t" style="top:350.19px;font-size:13.5px;color:#7f7f7f;letter-spacing:-0.55px;right:945.10px;text-align:right;">3%</div>
<div class="d" style="left:338.80px;top:352.52px;width:10.00px;height:10.00px;background:#5ea28a;border:1px solid #3a725f;"></div>
<div class="t" style="top:350.19px;font-size:13.5px;color:#7f7f7f;letter-spacing:-0.55px;right:878.80px;text-align:right;">-3%</div>
<div class="d" style="left:405.50px;top:352.52px;width:10.00px;height:10.00px;background:#dc502c;border:1px solid #9e351b;"></div>
<div class="t" style="top:350.19px;font-size:13.5px;color:#7f7f7f;letter-spacing:-0.55px;right:807.90px;text-align:right;">38%</div>
<div class="d" style="left:476.00px;top:352.52px;width:10.00px;height:10.00px;background:#dc502c;border:1px solid #9e351b;"></div>
<div class="d" style="left:522.20px;top:349.12px;width:13.60px;height:13.60px;background:#ebc17b;border:1px solid #a88535;"></div>
<div class="t" style="top:350.19px;font-size:13.5px;color:#7f7f7f;letter-spacing:-0.55px;right:691.00px;text-align:right;">0%</div>
<div class="d" style="left:593.20px;top:352.72px;width:9.60px;height:9.60px;background:#ebc17b;border:1px solid #a88535;"></div>
<div class="t" style="top:351.46px;font-size:12px;color:#e9eeed;right:639.00px;text-align:right;">0%</div>
<div class="t" style="top:350.19px;font-size:13.5px;color:#7f7f7f;letter-spacing:-0.55px;right:594.70px;text-align:right;">0%</div>
<div class="d" style="left:689.60px;top:349.32px;width:13.20px;height:13.20px;background:#ebc17b;border:1px solid #a88535;"></div>
<div class="t" style="top:351.46px;font-size:12px;color:#e9eeed;right:545.00px;text-align:right;">0%</div>
<div class="d" style="left:750.70px;top:349.12px;width:13.60px;height:13.60px;background:#dc502c;border:1px solid #9e351b;"></div>
<div class="t" style="top:350.19px;font-size:13.5px;color:#7f7f7f;letter-spacing:-0.55px;right:458.20px;text-align:right;">-5%</div>
<div class="d" style="left:825.90px;top:352.52px;width:10.00px;height:10.00px;background:#dc502c;border:1px solid #9e351b;"></div>
<div class="t" style="top:350.19px;font-size:13.5px;color:#7f7f7f;letter-spacing:-0.55px;right:379.30px;text-align:right;">38%</div>
<div class="d" style="left:904.80px;top:352.52px;width:10.00px;height:10.00px;background:#dc502c;border:1px solid #9e351b;"></div>
<div class="d" style="left:1077.25px;top:349.07px;width:11.70px;height:11.70px;background:#00800b;"></div>
<div class="d" style="left:1091.42px;top:349.07px;width:11.70px;height:11.70px;background:#84ad45;"></div>
<div class="d" style="left:1105.59px;top:349.07px;width:11.70px;height:11.70px;background:#84ad45;"></div>
<div class="d" style="left:1119.76px;top:349.07px;width:11.70px;height:11.70px;background:#ffff00;"></div>
<div class="d" style="left:1133.93px;top:349.07px;width:11.70px;height:11.70px;background:#ffff00;"></div>
<div class="d" style="left:1148.10px;top:349.07px;width:11.70px;height:11.70px;background:#ffff00;"></div>
<div class="d" style="left:1162.27px;top:349.07px;width:11.70px;height:11.70px;background:#f79646;"></div>
<div class="d" style="left:1176.44px;top:349.07px;width:11.70px;height:11.70px;background:#f79646;"></div>
<div class="d" style="left:1190.61px;top:349.07px;width:11.70px;height:11.70px;background:#f79646;"></div>
<div class="d" style="left:1204.78px;top:349.07px;width:11.70px;height:11.70px;background:#f79646;"></div>
<div class="d" style="left:1218.95px;top:349.07px;width:11.70px;height:11.70px;background:#c64a49;"></div>
<div class="d" style="left:1233.12px;top:349.07px;width:11.70px;height:11.70px;background:#f79646;"></div>
<div class="t" style="top:377.28px;font-size:13px;color:#111;right:1235.80px;text-align:right;">9</div>
<div class="d" style="left:166.10px;top:375.78px;width:13.60px;height:13.60px;background:#ebc17b;border:1px solid #a88535;"></div>
<div class="d" style="left:205.00px;top:375.68px;width:13.80px;height:13.80px;background:#ebc17b;border:1px solid #a88535;"></div>
<div class="t" style="top:376.85px;font-size:13.5px;color:#7f7f7f;letter-spacing:-0.55px;right:1008.10px;text-align:right;">6%</div>
<div class="d" style="left:276.00px;top:379.18px;width:10.00px;height:10.00px;background:#5ea28a;border:1px solid #3a725f;"></div>
<div class="t" style="top:376.85px;font-size:13.5px;color:#7f7f7f;letter-spacing:-0.55px;right:945.10px;text-align:right;">3%</div>
<div class="d" style="left:338.80px;top:379.18px;width:10.00px;height:10.00px;background:#5ea28a;border:1px solid #3a725f;"></div>
<div class="t" style="top:376.85px;font-size:13.5px;color:#7f7f7f;letter-spacing:-0.55px;right:878.80px;text-align:right;">63%</div>
<div class="d" style="left:405.50px;top:379.18px;width:10.00px;height:10.00px;background:#5ea28a;border:1px solid #3a725f;"></div>
<div class="t" style="top:376.85px;font-size:13.5px;color:#7f7f7f;letter-spacing:-0.55px;right:807.90px;text-align:right;">88%</div>
<div class="d" style="left:476.00px;top:379.18px;width:10.00px;height:10.00px;background:#dc502c;border:1px solid #9e351b;"></div>
<div class="d" style="left:522.20px;top:375.78px;width:13.60px;height:13.60px;background:#dc502c;border:1px solid #9e351b;"></div>
<div class="t" style="top:376.85px;font-size:13.5px;color:#7f7f7f;letter-spacing:-0.55px;right:691.00px;text-align:right;">-2%</div>
<div class="d" style="left:593.20px;top:379.38px;width:9.60px;height:9.60px;background:#dc502c;border:1px solid #9e351b;"></div>
<div class="t" style="top:378.12px;font-size:12px;color:#e9eeed;right:639.00px;text-align:right;">2%</div>
<div class="t" style="top:376.85px;font-size:13.5px;color:#7f7f7f;letter-spacing:-0.55px;right:594.70px;text-align:right;">6%</div>
<div class="d" style="left:689.60px;top:375.98px;width:13.20px;height:13.20px;background:#5ea28a;border:1px solid #3a725f;"></div>
<div class="t" style="top:378.12px;font-size:12px;color:#e9eeed;right:545.00px;text-align:right;">6%</div>
<div class="d" style="left:750.70px;top:375.78px;width:13.60px;height:13.60px;background:#5ea28a;border:1px solid #3a725f;"></div>
<div class="t" style="top:376.85px;font-size:13.5px;color:#7f7f7f;letter-spacing:-0.55px;right:458.20px;text-align:right;">11%</div>
<div class="d" style="left:825.90px;top:379.18px;width:10.00px;height:10.00px;background:#5ea28a;border:1px solid #3a725f;"></div>
<div class="t" style="top:376.85px;font-size:13.5px;color:#7f7f7f;letter-spacing:-0.55px;right:379.30px;text-align:right;">-23%</div>
<div class="d" style="left:904.80px;top:379.18px;width:10.00px;height:10.00px;background:#5ea28a;border:1px solid #3a725f;"></div>
<div class="t" style="top:376.85px;font-size:13.5px;color:#7f7f7f;letter-spacing:-0.55px;right:242.00px;text-align:right;">3%</div>
<div class="d" style="left:1042.60px;top:379.68px;width:9.00px;height:9.00px;background:#5ea28a;border:1px solid #3a725f;"></div>
<div class="d" style="left:1077.25px;top:375.73px;width:11.70px;height:11.70px;background:#f79646;"></div>
<div class="d" style="left:1091.42px;top:375.73px;width:11.70px;height:11.70px;background:#f79646;"></div>
<div class="d" style="left:1105.59px;top:375.73px;width:11.70px;height:11.70px;background:#c64a49;"></div>
<div class="d" style="left:1119.76px;top:375.73px;width:11.70px;height:11.70px;background:#c64a49;"></div>
<div class="d" style="left:1133.93px;top:375.73px;width:11.70px;height:11.70px;background:#c64a49;"></div>
<div class="d" style="left:1148.10px;top:375.73px;width:11.70px;height:11.70px;background:#c64a49;"></div>
<div class="d" style="left:1162.27px;top:375.73px;width:11.70px;height:11.70px;background:#c64a49;"></div>
<div class="d" style="left:1176.44px;top:375.73px;width:11.70px;height:11.70px;background:#c64a49;"></div>
<div class="d" style="left:1190.61px;top:375.73px;width:11.70px;height:11.70px;background:#c64a49;"></div>
<div class="d" style="left:1204.78px;top:375.73px;width:11.70px;height:11.70px;background:#ffff00;"></div>
<div class="d" style="left:1218.95px;top:375.73px;width:11.70px;height:11.70px;background:#ffff00;"></div>
<div class="d" style="left:1233.12px;top:375.73px;width:11.70px;height:11.70px;background:#ffff00;"></div>
<div class="t" style="top:403.94px;font-size:13px;color:#111;right:1235.80px;text-align:right;">10</div>
<div class="d" style="left:166.10px;top:402.44px;width:13.60px;height:13.60px;background:#ebc17b;border:1px solid #a88535;"></div>
<div class="d" style="left:205.00px;top:402.34px;width:13.80px;height:13.80px;background:#ebc17b;border:1px solid #a88535;"></div>
<div class="t" style="top:403.51px;font-size:13.5px;color:#7f7f7f;letter-spacing:-0.55px;right:1008.10px;text-align:right;">-2%</div>
<div class="d" style="left:276.00px;top:405.84px;width:10.00px;height:10.00px;background:#dc502c;border:1px solid #9e351b;"></div>
<div class="t" style="top:403.51px;font-size:13.5px;color:#7f7f7f;letter-spacing:-0.55px;right:945.10px;text-align:right;">1%</div>
<div class="d" style="left:338.80px;top:405.84px;width:10.00px;height:10.00px;background:#dc502c;border:1px solid #9e351b;"></div>
<div class="t" style="top:403.51px;font-size:13.5px;color:#7f7f7f;letter-spacing:-0.55px;right:878.80px;text-align:right;">29%</div>
<div class="d" style="left:405.50px;top:405.84px;width:10.00px;height:10.00px;background:#dc502c;border:1px solid #9e351b;"></div>
<div class="t" style="top:403.51px;font-size:13.5px;color:#7f7f7f;letter-spacing:-0.55px;right:807.90px;text-align:right;">42%</div>
<div class="d" style="left:476.00px;top:405.84px;width:10.00px;height:10.00px;background:#dc502c;border:1px solid #9e351b;"></div>
<div class="d" style="left:522.20px;top:402.44px;width:13.60px;height:13.60px;background:#ebc17b;border:1px solid #a88535;"></div>
<div class="t" style="top:403.51px;font-size:13.5px;color:#7f7f7f;letter-spacing:-0.55px;right:691.00px;text-align:right;">0%</div>
<div class="d" style="left:593.20px;top:406.04px;width:9.60px;height:9.60px;background:#ebc17b;border:1px solid #a88535;"></div>
<div class="t" style="top:404.78px;font-size:12px;color:#e9eeed;right:639.00px;text-align:right;">0%</div>
<div class="t" style="top:403.51px;font-size:13.5px;color:#7f7f7f;letter-spacing:-0.55px;right:594.70px;text-align:right;">0%</div>
<div class="d" style="left:689.60px;top:402.64px;width:13.20px;height:13.20px;background:#ebc17b;border:1px solid #a88535;"></div>
<div class="t" style="top:404.78px;font-size:12px;color:#e9eeed;right:545.00px;text-align:right;">0%</div>
<div class="d" style="left:750.70px;top:402.44px;width:13.60px;height:13.60px;background:#ebc17b;border:1px solid #a88535;"></div>
<div class="t" style="top:403.51px;font-size:13.5px;color:#7f7f7f;letter-spacing:-0.55px;right:379.30px;text-align:right;">33%</div>
<div class="d" style="left:904.80px;top:405.84px;width:10.00px;height:10.00px;background:#dc502c;border:1px solid #9e351b;"></div>
<div class="t" style="top:403.51px;font-size:13.5px;color:#7f7f7f;letter-spacing:-0.55px;right:242.00px;text-align:right;">0%</div>
<div class="d" style="left:1042.60px;top:406.34px;width:9.00px;height:9.00px;background:#ebc17b;border:1px solid #a88535;"></div>
<div class="d" style="left:1077.25px;top:402.39px;width:11.70px;height:11.70px;background:#84ad45;"></div>
<div class="d" style="left:1091.42px;top:402.39px;width:11.70px;height:11.70px;background:#84ad45;"></div>
<div class="d" style="left:1105.59px;top:402.39px;width:11.70px;height:11.70px;background:#84ad45;"></div>
<div class="d" style="left:1119.76px;top:402.39px;width:11.70px;height:11.70px;background:#84ad45;"></div>
<div class="d" style="left:1133.93px;top:402.39px;width:11.70px;height:11.70px;background:#ffff00;"></div>
<div class="d" style="left:1148.10px;top:402.39px;width:11.70px;height:11.70px;background:#ffff00;"></div>
<div class="d" style="left:1162.27px;top:402.39px;width:11.70px;height:11.70px;background:#ffff00;"></div>
<div class="d" style="left:1176.44px;top:402.39px;width:11.70px;height:11.70px;background:#ffff00;"></div>
<div class="d" style="left:1190.61px;top:402.39px;width:11.70px;height:11.70px;background:#ffff00;"></div>
<div class="d" style="left:1204.78px;top:402.39px;width:11.70px;height:11.70px;background:#ffff00;"></div>
<div class="d" style="left:1218.95px;top:402.39px;width:11.70px;height:11.70px;background:#ffff00;"></div>
<div class="d" style="left:1233.12px;top:402.39px;width:11.70px;height:11.70px;background:#ffff00;"></div>
<div class="t" style="top:430.60px;font-size:13px;color:#111;right:1235.80px;text-align:right;">11</div>
<div class="d" style="left:166.10px;top:429.10px;width:13.60px;height:13.60px;background:#5ea28a;border:1px solid #3a725f;"></div>
<div class="d" style="left:205.00px;top:429.00px;width:13.80px;height:13.80px;background:#5ea28a;border:1px solid #3a725f;"></div>
<div class="t" style="top:430.17px;font-size:13.5px;color:#7f7f7f;letter-spacing:-0.55px;right:1008.10px;text-align:right;">2%</div>
<div class="d" style="left:276.00px;top:432.50px;width:10.00px;height:10.00px;background:#dc502c;border:1px solid #9e351b;"></div>
<div class="t" style="top:430.17px;font-size:13.5px;color:#7f7f7f;letter-spacing:-0.55px;right:945.10px;text-align:right;">3%</div>
<div class="d" style="left:338.80px;top:432.50px;width:10.00px;height:10.00px;background:#dc502c;border:1px solid #9e351b;"></div>
<div class="t" style="top:430.17px;font-size:13.5px;color:#7f7f7f;letter-spacing:-0.55px;right:878.80px;text-align:right;">52%</div>
<div class="d" style="left:405.50px;top:432.50px;width:10.00px;height:10.00px;background:#5ea28a;border:1px solid #3a725f;"></div>
<div class="t" style="top:430.17px;font-size:13.5px;color:#7f7f7f;letter-spacing:-0.55px;right:807.90px;text-align:right;">75%</div>
<div class="d" style="left:476.00px;top:432.50px;width:10.00px;height:10.00px;background:#dc502c;border:1px solid #9e351b;"></div>
<div class="d" style="left:522.20px;top:429.10px;width:13.60px;height:13.60px;background:#5ea28a;border:1px solid #3a725f;"></div>
<div class="t" style="top:430.17px;font-size:13.5px;color:#7f7f7f;letter-spacing:-0.55px;right:691.00px;text-align:right;">12%</div>
<div class="d" style="left:593.20px;top:432.70px;width:9.60px;height:9.60px;background:#5ea28a;border:1px solid #3a725f;"></div>
<div class="t" style="top:431.44px;font-size:12px;color:#e9eeed;right:639.00px;text-align:right;">12%</div>
<div class="t" style="top:430.17px;font-size:13.5px;color:#7f7f7f;letter-spacing:-0.55px;right:594.70px;text-align:right;">3%</div>
<div class="d" style="left:689.60px;top:429.30px;width:13.20px;height:13.20px;background:#5ea28a;border:1px solid #3a725f;"></div>
<div class="t" style="top:431.44px;font-size:12px;color:#e9eeed;right:545.00px;text-align:right;">3%</div>
<div class="d" style="left:750.70px;top:429.10px;width:13.60px;height:13.60px;background:#5ea28a;border:1px solid #3a725f;"></div>
<div class="t" style="top:430.17px;font-size:13.5px;color:#7f7f7f;letter-spacing:-0.55px;right:458.20px;text-align:right;">5%</div>
<div class="d" style="left:825.90px;top:432.50px;width:10.00px;height:10.00px;background:#5ea28a;border:1px solid #3a725f;"></div>
<div class="t" style="top:430.17px;font-size:13.5px;color:#7f7f7f;letter-spacing:-0.55px;right:242.00px;text-align:right;">11%</div>
<div class="d" style="left:1042.60px;top:433.00px;width:9.00px;height:9.00px;background:#5ea28a;border:1px solid #3a725f;"></div>
<div class="d" style="left:1077.25px;top:429.05px;width:11.70px;height:11.70px;background:#00800b;"></div>
<div class="d" style="left:1091.42px;top:429.05px;width:11.70px;height:11.70px;background:#00800b;"></div>
<div class="d" style="left:1105.59px;top:429.05px;width:11.70px;height:11.70px;background:#00800b;"></div>
<div class="d" style="left:1119.76px;top:429.05px;width:11.70px;height:11.70px;background:#00800b;"></div>
<div class="d" style="left:1133.93px;top:429.05px;width:11.70px;height:11.70px;background:#84ad45;"></div>
<div class="d" style="left:1148.10px;top:429.05px;width:11.70px;height:11.70px;background:#84ad45;"></div>
<div class="d" style="left:1162.27px;top:429.05px;width:11.70px;height:11.70px;background:#84ad45;"></div>
<div class="d" style="left:1176.44px;top:429.05px;width:11.70px;height:11.70px;background:#84ad45;"></div>
<div class="d" style="left:1190.61px;top:429.05px;width:11.70px;height:11.70px;background:#84ad45;"></div>
<div class="d" style="left:1204.78px;top:429.05px;width:11.70px;height:11.70px;background:#84ad45;"></div>
<div class="d" style="left:1218.95px;top:429.05px;width:11.70px;height:11.70px;background:#84ad45;"></div>
<div class="d" style="left:1233.12px;top:429.05px;width:11.70px;height:11.70px;background:#84ad45;"></div>
<div class="t" style="top:457.26px;font-size:13px;color:#111;right:1235.80px;text-align:right;">12</div>
<div class="d" style="left:166.10px;top:455.76px;width:13.60px;height:13.60px;background:#5ea28a;border:1px solid #3a725f;"></div>
<div class="d" style="left:205.00px;top:455.66px;width:13.80px;height:13.80px;background:#ebc17b;border:1px solid #a88535;"></div>
<div class="t" style="top:456.83px;font-size:13.5px;color:#7f7f7f;letter-spacing:-0.55px;right:1008.10px;text-align:right;">-1%</div>
<div class="d" style="left:276.00px;top:459.16px;width:10.00px;height:10.00px;background:#dc502c;border:1px solid #9e351b;"></div>
<div class="t" style="top:456.83px;font-size:13.5px;color:#7f7f7f;letter-spacing:-0.55px;right:945.10px;text-align:right;">1%</div>
<div class="d" style="left:338.80px;top:459.16px;width:10.00px;height:10.00px;background:#dc502c;border:1px solid #9e351b;"></div>
<div class="t" style="top:456.83px;font-size:13.5px;color:#7f7f7f;letter-spacing:-0.55px;right:878.80px;text-align:right;">129%</div>
<div class="d" style="left:405.50px;top:459.16px;width:10.00px;height:10.00px;background:#5ea28a;border:1px solid #3a725f;"></div>
<div class="t" style="top:456.83px;font-size:13.5px;color:#7f7f7f;letter-spacing:-0.55px;right:807.90px;text-align:right;">57%</div>
<div class="d" style="left:476.00px;top:459.16px;width:10.00px;height:10.00px;background:#5ea28a;border:1px solid #3a725f;"></div>
<div class="d" style="left:522.20px;top:455.76px;width:13.60px;height:13.60px;background:#ebc17b;border:1px solid #a88535;"></div>
<div class="t" style="top:456.83px;font-size:13.5px;color:#7f7f7f;letter-spacing:-0.55px;right:691.00px;text-align:right;">0%</div>
<div class="d" style="left:593.20px;top:459.36px;width:9.60px;height:9.60px;background:#ebc17b;border:1px solid #a88535;"></div>
<div class="t" style="top:458.10px;font-size:12px;color:#e9eeed;right:639.00px;text-align:right;">0%</div>
<div class="t" style="top:456.83px;font-size:13.5px;color:#7f7f7f;letter-spacing:-0.55px;right:594.70px;text-align:right;">0%</div>
<div class="d" style="left:689.60px;top:455.96px;width:13.20px;height:13.20px;background:#ebc17b;border:1px solid #a88535;"></div>
<div class="t" style="top:458.10px;font-size:12px;color:#e9eeed;right:545.00px;text-align:right;">0%</div>
<div class="d" style="left:750.70px;top:455.76px;width:13.60px;height:13.60px;background:#5ea28a;border:1px solid #3a725f;"></div>
<div class="t" style="top:456.83px;font-size:13.5px;color:#7f7f7f;letter-spacing:-0.55px;right:458.20px;text-align:right;">16%</div>
<div class="d" style="left:825.90px;top:459.16px;width:10.00px;height:10.00px;background:#5ea28a;border:1px solid #3a725f;"></div>
<div class="t" style="top:456.83px;font-size:13.5px;color:#7f7f7f;letter-spacing:-0.55px;right:242.00px;text-align:right;">0%</div>
<div class="d" style="left:1042.60px;top:459.66px;width:9.00px;height:9.00px;background:#ebc17b;border:1px solid #a88535;"></div>
<div class="d" style="left:1077.25px;top:455.71px;width:11.70px;height:11.70px;background:#ffff00;"></div>
<div class="d" style="left:1091.42px;top:455.71px;width:11.70px;height:11.70px;background:#84ad45;"></div>
<div class="d" style="left:1105.59px;top:455.71px;width:11.70px;height:11.70px;background:#84ad45;"></div>
<div class="d" style="left:1119.76px;top:455.71px;width:11.70px;height:11.70px;background:#00800b;"></div>
<div class="d" style="left:1133.93px;top:455.71px;width:11.70px;height:11.70px;background:#00800b;"></div>
<div class="d" style="left:1148.10px;top:455.71px;width:11.70px;height:11.70px;background:#00800b;"></div>
<div class="d" style="left:1162.27px;top:455.71px;width:11.70px;height:11.70px;background:#00800b;"></div>
<div class="d" style="left:1176.44px;top:455.71px;width:11.70px;height:11.70px;background:#00800b;"></div>
<div class="d" style="left:1190.61px;top:455.71px;width:11.70px;height:11.70px;background:#00800b;"></div>
<div class="d" style="left:1204.78px;top:455.71px;width:11.70px;height:11.70px;background:#00800b;"></div>
<div class="d" style="left:1218.95px;top:455.71px;width:11.70px;height:11.70px;background:#00800b;"></div>
<div class="d" style="left:1233.12px;top:455.71px;width:11.70px;height:11.70px;background:#00800b;"></div>
<div class="t" style="top:483.92px;font-size:13px;color:#111;right:1235.80px;text-align:right;">13</div>
<div class="d" style="left:166.10px;top:482.42px;width:13.60px;height:13.60px;background:#ebc17b;border:1px solid #a88535;"></div>
<div class="d" style="left:205.00px;top:482.32px;width:13.80px;height:13.80px;background:#5ea28a;border:1px solid #3a725f;"></div>
<div class="t" style="top:483.49px;font-size:13.5px;color:#7f7f7f;letter-spacing:-0.55px;right:1008.10px;text-align:right;">13%</div>
<div class="d" style="left:276.00px;top:485.82px;width:10.00px;height:10.00px;background:#5ea28a;border:1px solid #3a725f;"></div>
<div class="t" style="top:483.49px;font-size:13.5px;color:#7f7f7f;letter-spacing:-0.55px;right:945.10px;text-align:right;">3%</div>
<div class="d" style="left:338.80px;top:485.82px;width:10.00px;height:10.00px;background:#5ea28a;border:1px solid #3a725f;"></div>
<div class="t" style="top:483.49px;font-size:13.5px;color:#7f7f7f;letter-spacing:-0.55px;right:878.80px;text-align:right;">68%</div>
<div class="d" style="left:405.50px;top:485.82px;width:10.00px;height:10.00px;background:#5ea28a;border:1px solid #3a725f;"></div>
<div class="t" style="top:483.49px;font-size:13.5px;color:#7f7f7f;letter-spacing:-0.55px;right:807.90px;text-align:right;">42%</div>
<div class="d" style="left:476.00px;top:485.82px;width:10.00px;height:10.00px;background:#5ea28a;border:1px solid #3a725f;"></div>
<div class="d" style="left:522.20px;top:482.42px;width:13.60px;height:13.60px;background:#ebc17b;border:1px solid #a88535;"></div>
<div class="t" style="top:483.49px;font-size:13.5px;color:#7f7f7f;letter-spacing:-0.55px;right:691.00px;text-align:right;">-1%</div>
<div class="d" style="left:593.20px;top:486.02px;width:9.60px;height:9.60px;background:#dc502c;border:1px solid #9e351b;"></div>
<div class="t" style="top:484.76px;font-size:12px;color:#e9eeed;right:639.00px;text-align:right;">1%</div>
<div class="t" style="top:483.49px;font-size:13.5px;color:#7f7f7f;letter-spacing:-0.55px;right:594.70px;text-align:right;">6%</div>
<div class="d" style="left:689.60px;top:482.62px;width:13.20px;height:13.20px;background:#5ea28a;border:1px solid #3a725f;"></div>
<div class="t" style="top:484.76px;font-size:12px;color:#e9eeed;right:545.00px;text-align:right;">6%</div>
<div class="d" style="left:750.70px;top:482.42px;width:13.60px;height:13.60px;background:#dc502c;border:1px solid #9e351b;"></div>
<div class="t" style="top:483.49px;font-size:13.5px;color:#7f7f7f;letter-spacing:-0.55px;right:458.20px;text-align:right;">-40%</div>
<div class="d" style="left:825.90px;top:485.82px;width:10.00px;height:10.00px;background:#dc502c;border:1px solid #9e351b;"></div>
<div class="t" style="top:483.49px;font-size:13.5px;color:#7f7f7f;letter-spacing:-0.55px;right:379.30px;text-align:right;">8%</div>
<div class="d" style="left:904.80px;top:485.82px;width:10.00px;height:10.00px;background:#dc502c;border:1px solid #9e351b;"></div>
<div class="d" style="left:1077.25px;top:482.37px;width:11.70px;height:11.70px;background:#c64a49;"></div>
<div class="d" style="left:1091.42px;top:482.37px;width:11.70px;height:11.70px;background:#c64a49;"></div>
<div class="d" style="left:1105.59px;top:482.37px;width:11.70px;height:11.70px;background:#c64a49;"></div>
<div class="d" style="left:1119.76px;top:482.37px;width:11.70px;height:11.70px;background:#c64a49;"></div>
<div class="d" style="left:1133.93px;top:482.37px;width:11.70px;height:11.70px;background:#c64a49;"></div>
<div class="d" style="left:1148.10px;top:482.37px;width:11.70px;height:11.70px;background:#f79646;"></div>
<div class="d" style="left:1162.27px;top:482.37px;width:11.70px;height:11.70px;background:#f79646;"></div>
<div class="d" style="left:1176.44px;top:482.37px;width:11.70px;height:11.70px;background:#f79646;"></div>
<div class="d" style="left:1190.61px;top:482.37px;width:11.70px;height:11.70px;background:#f79646;"></div>
<div class="d" style="left:1204.78px;top:482.37px;width:11.70px;height:11.70px;background:#f79646;"></div>
<div class="d" style="left:1218.95px;top:482.37px;width:11.70px;height:11.70px;background:#ffff00;"></div>
<div class="d" style="left:1233.12px;top:482.37px;width:11.70px;height:11.70px;background:#ffff00;"></div>
<div class="t" style="top:510.58px;font-size:13px;color:#111;right:1235.80px;text-align:right;">14</div>
<div class="d" style="left:166.10px;top:509.08px;width:13.60px;height:13.60px;background:#dc502c;border:1px solid #9e351b;"></div>
<div class="d" style="left:205.00px;top:508.98px;width:13.80px;height:13.80px;background:#dc502c;border:1px solid #9e351b;"></div>
<div class="t" style="top:510.15px;font-size:13.5px;color:#7f7f7f;letter-spacing:-0.55px;right:1008.10px;text-align:right;">-2%</div>
<div class="d" style="left:276.00px;top:512.48px;width:10.00px;height:10.00px;background:#dc502c;border:1px solid #9e351b;"></div>
<div class="t" style="top:510.15px;font-size:13.5px;color:#7f7f7f;letter-spacing:-0.55px;right:945.10px;text-align:right;">2%</div>
<div class="d" style="left:338.80px;top:512.48px;width:10.00px;height:10.00px;background:#dc502c;border:1px solid #9e351b;"></div>
<div class="t" style="top:510.15px;font-size:13.5px;color:#7f7f7f;letter-spacing:-0.55px;right:878.80px;text-align:right;">21%</div>
<div class="d" style="left:405.50px;top:512.48px;width:10.00px;height:10.00px;background:#dc502c;border:1px solid #9e351b;"></div>
<div class="t" style="top:510.15px;font-size:13.5px;color:#7f7f7f;letter-spacing:-0.55px;right:807.90px;text-align:right;">70%</div>
<div class="d" style="left:476.00px;top:512.48px;width:10.00px;height:10.00px;background:#dc502c;border:1px solid #9e351b;"></div>
<div class="d" style="left:522.20px;top:509.08px;width:13.60px;height:13.60px;background:#ebc17b;border:1px solid #a88535;"></div>
<div class="t" style="top:510.15px;font-size:13.5px;color:#7f7f7f;letter-spacing:-0.55px;right:691.00px;text-align:right;">-2%</div>
<div class="d" style="left:593.20px;top:512.68px;width:9.60px;height:9.60px;background:#dc502c;border:1px solid #9e351b;"></div>
<div class="t" style="top:511.42px;font-size:12px;color:#e9eeed;right:639.00px;text-align:right;">2%</div>
<div class="t" style="top:510.15px;font-size:13.5px;color:#7f7f7f;letter-spacing:-0.55px;right:594.70px;text-align:right;">0%</div>
<div class="d" style="left:689.60px;top:509.28px;width:13.20px;height:13.20px;background:#ebc17b;border:1px solid #a88535;"></div>
<div class="t" style="top:511.42px;font-size:12px;color:#e9eeed;right:545.00px;text-align:right;">0%</div>
<div class="d" style="left:750.70px;top:509.08px;width:13.60px;height:13.60px;background:#dc502c;border:1px solid #9e351b;"></div>
<div class="t" style="top:510.15px;font-size:13.5px;color:#7f7f7f;letter-spacing:-0.55px;right:458.20px;text-align:right;">-3%</div>
<div class="d" style="left:825.90px;top:512.48px;width:10.00px;height:10.00px;background:#dc502c;border:1px solid #9e351b;"></div>
<div class="t" style="top:510.15px;font-size:13.5px;color:#7f7f7f;letter-spacing:-0.55px;right:379.30px;text-align:right;">-33%</div>
<div class="d" style="left:904.80px;top:512.48px;width:10.00px;height:10.00px;background:#5ea28a;border:1px solid #3a725f;"></div>
<div class="d" style="left:1077.25px;top:509.03px;width:11.70px;height:11.70px;background:#84ad45;"></div>
<div class="d" style="left:1091.42px;top:509.03px;width:11.70px;height:11.70px;background:#84ad45;"></div>
<div class="d" style="left:1105.59px;top:509.03px;width:11.70px;height:11.70px;background:#ffff00;"></div>
<div class="d" style="left:1119.76px;top:509.03px;width:11.70px;height:11.70px;background:#ffff00;"></div>
<div class="d" style="left:1133.93px;top:509.03px;width:11.70px;height:11.70px;background:#ffff00;"></div>
<div class="d" style="left:1148.10px;top:509.03px;width:11.70px;height:11.70px;background:#ffff00;"></div>
<div class="d" style="left:1162.27px;top:509.03px;width:11.70px;height:11.70px;background:#ffff00;"></div>
<div class="d" style="left:1176.44px;top:509.03px;width:11.70px;height:11.70px;background:#84ad45;"></div>
<div class="d" style="left:1190.61px;top:509.03px;width:11.70px;height:11.70px;background:#ffff00;"></div>
<div class="d" style="left:1204.78px;top:509.03px;width:11.70px;height:11.70px;background:#f79646;"></div>
<div class="d" style="left:1218.95px;top:509.03px;width:11.70px;height:11.70px;background:#f79646;"></div>
<div class="d" style="left:1233.12px;top:509.03px;width:11.70px;height:11.70px;background:#f79646;"></div>
<div class="t" style="top:537.24px;font-size:13px;color:#111;right:1235.80px;text-align:right;">15</div>
<div class="d" style="left:166.10px;top:535.74px;width:13.60px;height:13.60px;background:#ebc17b;border:1px solid #a88535;"></div>
<div class="d" style="left:205.00px;top:535.64px;width:13.80px;height:13.80px;background:#5ea28a;border:1px solid #3a725f;"></div>
<div class="t" style="top:536.81px;font-size:13.5px;color:#7f7f7f;letter-spacing:-0.55px;right:1008.10px;text-align:right;">8%</div>
<div class="d" style="left:276.00px;top:539.14px;width:10.00px;height:10.00px;background:#5ea28a;border:1px solid #3a725f;"></div>
<div class="t" style="top:536.81px;font-size:13.5px;color:#7f7f7f;letter-spacing:-0.55px;right:945.10px;text-align:right;">3%</div>
<div class="d" style="left:338.80px;top:539.14px;width:10.00px;height:10.00px;background:#5ea28a;border:1px solid #3a725f;"></div>
<div class="t" style="top:536.81px;font-size:13.5px;color:#7f7f7f;letter-spacing:-0.55px;right:878.80px;text-align:right;">58%</div>
<div class="d" style="left:405.50px;top:539.14px;width:10.00px;height:10.00px;background:#5ea28a;border:1px solid #3a725f;"></div>
<div class="t" style="top:536.81px;font-size:13.5px;color:#7f7f7f;letter-spacing:-0.55px;right:807.90px;text-align:right;">51%</div>
<div class="d" style="left:476.00px;top:539.14px;width:10.00px;height:10.00px;background:#5ea28a;border:1px solid #3a725f;"></div>
<div class="d" style="left:522.20px;top:535.74px;width:13.60px;height:13.60px;background:#dc502c;border:1px solid #9e351b;"></div>
<div class="t" style="top:536.81px;font-size:13.5px;color:#7f7f7f;letter-spacing:-0.55px;right:691.00px;text-align:right;">-23%</div>
<div class="d" style="left:593.20px;top:539.34px;width:9.60px;height:9.60px;background:#dc502c;border:1px solid #9e351b;"></div>
<div class="t" style="top:538.08px;font-size:12px;color:#e9eeed;right:639.00px;text-align:right;">23%</div>
<div class="t" style="top:536.81px;font-size:13.5px;color:#7f7f7f;letter-spacing:-0.55px;right:594.70px;text-align:right;">-4%</div>
<div class="d" style="left:689.60px;top:535.94px;width:13.20px;height:13.20px;background:#dc502c;border:1px solid #9e351b;"></div>
<div class="t" style="top:538.08px;font-size:12px;color:#e9eeed;right:545.00px;text-align:right;">4%</div>
<div class="d" style="left:750.70px;top:535.74px;width:13.60px;height:13.60px;background:#ebc17b;border:1px solid #a88535;"></div>
<div class="t" style="top:536.81px;font-size:13.5px;color:#7f7f7f;letter-spacing:-0.55px;right:458.20px;text-align:right;">-11%</div>
<div class="d" style="left:825.90px;top:539.14px;width:10.00px;height:10.00px;background:#dc502c;border:1px solid #9e351b;"></div>
<div class="t" style="top:536.81px;font-size:13.5px;color:#7f7f7f;letter-spacing:-0.55px;right:379.30px;text-align:right;">15%</div>
<div class="d" style="left:904.80px;top:539.14px;width:10.00px;height:10.00px;background:#dc502c;border:1px solid #9e351b;"></div>
<div class="d" style="left:1077.25px;top:535.69px;width:11.70px;height:11.70px;background:#00800b;"></div>
<div class="d" style="left:1091.42px;top:535.69px;width:11.70px;height:11.70px;background:#84ad45;"></div>
<div class="d" style="left:1105.59px;top:535.69px;width:11.70px;height:11.70px;background:#84ad45;"></div>
<div class="d" style="left:1119.76px;top:535.69px;width:11.70px;height:11.70px;background:#84ad45;"></div>
<div class="d" style="left:1133.93px;top:535.69px;width:11.70px;height:11.70px;background:#84ad45;"></div>
<div class="d" style="left:1148.10px;top:535.69px;width:11.70px;height:11.70px;background:#84ad45;"></div>
<div class="d" style="left:1162.27px;top:535.69px;width:11.70px;height:11.70px;background:#00800b;"></div>
<div class="d" style="left:1176.44px;top:535.69px;width:11.70px;height:11.70px;background:#00800b;"></div>
<div class="d" style="left:1190.61px;top:535.69px;width:11.70px;height:11.70px;background:#00800b;"></div>
<div class="d" style="left:1204.78px;top:535.69px;width:11.70px;height:11.70px;background:#84ad45;"></div>
<div class="d" style="left:1218.95px;top:535.69px;width:11.70px;height:11.70px;background:#ffff00;"></div>
<div class="d" style="left:1233.12px;top:535.69px;width:11.70px;height:11.70px;background:#ffff00;"></div>
<div class="t" style="top:563.90px;font-size:13px;color:#111;right:1235.80px;text-align:right;">16</div>
<div class="d" style="left:166.10px;top:562.40px;width:13.60px;height:13.60px;background:#5ea28a;border:1px solid #3a725f;"></div>
<div class="d" style="left:205.00px;top:562.30px;width:13.80px;height:13.80px;background:#ebc17b;border:1px solid #a88535;"></div>
<div class="t" style="top:563.47px;font-size:13.5px;color:#7f7f7f;letter-spacing:-0.55px;right:1008.10px;text-align:right;">-11%</div>
<div class="d" style="left:276.00px;top:565.80px;width:10.00px;height:10.00px;background:#dc502c;border:1px solid #9e351b;"></div>
<div class="t" style="top:563.47px;font-size:13.5px;color:#7f7f7f;letter-spacing:-0.55px;right:945.10px;text-align:right;">2%</div>
<div class="d" style="left:338.80px;top:565.80px;width:10.00px;height:10.00px;background:#dc502c;border:1px solid #9e351b;"></div>
<div class="t" style="top:563.47px;font-size:13.5px;color:#7f7f7f;letter-spacing:-0.55px;right:878.80px;text-align:right;">87%</div>
<div class="d" style="left:405.50px;top:565.80px;width:10.00px;height:10.00px;background:#5ea28a;border:1px solid #3a725f;"></div>
<div class="t" style="top:563.47px;font-size:13.5px;color:#7f7f7f;letter-spacing:-0.55px;right:807.90px;text-align:right;">89%</div>
<div class="d" style="left:476.00px;top:565.80px;width:10.00px;height:10.00px;background:#dc502c;border:1px solid #9e351b;"></div>
<div class="d" style="left:522.20px;top:562.40px;width:13.60px;height:13.60px;background:#5ea28a;border:1px solid #3a725f;"></div>
<div class="t" style="top:563.47px;font-size:13.5px;color:#7f7f7f;letter-spacing:-0.55px;right:691.00px;text-align:right;">0%</div>
<div class="d" style="left:593.20px;top:566.00px;width:9.60px;height:9.60px;background:#5ea28a;border:1px solid #3a725f;"></div>
<div class="t" style="top:564.74px;font-size:12px;color:#e9eeed;right:639.00px;text-align:right;">0%</div>
<div class="t" style="top:563.47px;font-size:13.5px;color:#7f7f7f;letter-spacing:-0.55px;right:594.70px;text-align:right;">8%</div>
<div class="d" style="left:689.60px;top:562.60px;width:13.20px;height:13.20px;background:#5ea28a;border:1px solid #3a725f;"></div>
<div class="t" style="top:564.74px;font-size:12px;color:#e9eeed;right:545.00px;text-align:right;">8%</div>
<div class="d" style="left:750.70px;top:562.40px;width:13.60px;height:13.60px;background:#5ea28a;border:1px solid #3a725f;"></div>
<div class="t" style="top:563.47px;font-size:13.5px;color:#7f7f7f;letter-spacing:-0.55px;right:458.20px;text-align:right;">64%</div>
<div class="d" style="left:825.90px;top:565.80px;width:10.00px;height:10.00px;background:#5ea28a;border:1px solid #3a725f;"></div>
<div class="t" style="top:563.47px;font-size:13.5px;color:#7f7f7f;letter-spacing:-0.55px;right:379.30px;text-align:right;">13%</div>
<div class="d" style="left:904.80px;top:565.80px;width:10.00px;height:10.00px;background:#dc502c;border:1px solid #9e351b;"></div>
<div class="t" style="top:563.47px;font-size:13.5px;color:#7f7f7f;letter-spacing:-0.55px;right:242.00px;text-align:right;">2%</div>
<div class="d" style="left:1042.60px;top:566.30px;width:9.00px;height:9.00px;background:#5ea28a;border:1px solid #3a725f;"></div>
<div class="d" style="left:1077.25px;top:562.35px;width:11.70px;height:11.70px;background:#c64a49;"></div>
<div class="d" style="left:1091.42px;top:562.35px;width:11.70px;height:11.70px;background:#c64a49;"></div>
<div class="d" style="left:1105.59px;top:562.35px;width:11.70px;height:11.70px;background:#84ad45;"></div>
<div class="d" style="left:1119.76px;top:562.35px;width:11.70px;height:11.70px;background:#00800b;"></div>
<div class="d" style="left:1133.93px;top:562.35px;width:11.70px;height:11.70px;background:#84ad45;"></div>
<div class="d" style="left:1148.10px;top:562.35px;width:11.70px;height:11.70px;background:#84ad45;"></div>
<div class="d" style="left:1162.27px;top:562.35px;width:11.70px;height:11.70px;background:#84ad45;"></div>
<div class="d" style="left:1176.44px;top:562.35px;width:11.70px;height:11.70px;background:#84ad45;"></div>
<div class="d" style="left:1190.61px;top:562.35px;width:11.70px;height:11.70px;background:#84ad45;"></div>
<div class="d" style="left:1204.78px;top:562.35px;width:11.70px;height:11.70px;background:#84ad45;"></div>
<div class="d" style="left:1218.95px;top:562.35px;width:11.70px;height:11.70px;background:#00800b;"></div>
<div class="d" style="left:1233.12px;top:562.35px;width:11.70px;height:11.70px;background:#84ad45;"></div>
<div class="t" style="top:590.56px;font-size:13px;color:#111;right:1235.80px;text-align:right;">17</div>
<div class="d" style="left:166.10px;top:589.06px;width:13.60px;height:13.60px;background:#5ea28a;border:1px solid #3a725f;"></div>
<div class="d" style="left:205.00px;top:588.96px;width:13.80px;height:13.80px;background:#5ea28a;border:1px solid #3a725f;"></div>
<div class="t" style="top:590.13px;font-size:13.5px;color:#7f7f7f;letter-spacing:-0.55px;right:1008.10px;text-align:right;">0%</div>
<div class="d" style="left:276.00px;top:592.46px;width:10.00px;height:10.00px;background:#dc502c;border:1px solid #9e351b;"></div>
<div class="t" style="top:590.13px;font-size:13.5px;color:#7f7f7f;letter-spacing:-0.55px;right:945.10px;text-align:right;">1%</div>
<div class="d" style="left:338.80px;top:592.46px;width:10.00px;height:10.00px;background:#dc502c;border:1px solid #9e351b;"></div>
<div class="t" style="top:590.13px;font-size:13.5px;color:#7f7f7f;letter-spacing:-0.55px;right:878.80px;text-align:right;">42%</div>
<div class="d" style="left:405.50px;top:592.46px;width:10.00px;height:10.00px;background:#dc502c;border:1px solid #9e351b;"></div>
<div class="t" style="top:590.13px;font-size:13.5px;color:#7f7f7f;letter-spacing:-0.55px;right:807.90px;text-align:right;">43%</div>
<div class="d" style="left:476.00px;top:592.46px;width:10.00px;height:10.00px;background:#dc502c;border:1px solid #9e351b;"></div>
<div class="d" style="left:522.20px;top:589.06px;width:13.60px;height:13.60px;background:#5ea28a;border:1px solid #3a725f;"></div>
<div class="t" style="top:590.13px;font-size:13.5px;color:#7f7f7f;letter-spacing:-0.55px;right:691.00px;text-align:right;">0%</div>
<div class="d" style="left:593.20px;top:592.66px;width:9.60px;height:9.60px;background:#ebc17b;border:1px solid #a88535;"></div>
<div class="t" style="top:591.40px;font-size:12px;color:#e9eeed;right:639.00px;text-align:right;">0%</div>
<div class="t" style="top:590.13px;font-size:13.5px;color:#7f7f7f;letter-spacing:-0.55px;right:594.70px;text-align:right;">7%</div>
<div class="d" style="left:689.60px;top:589.26px;width:13.20px;height:13.20px;background:#5ea28a;border:1px solid #3a725f;"></div>
<div class="t" style="top:591.40px;font-size:12px;color:#e9eeed;right:545.00px;text-align:right;">7%</div>
<div class="d" style="left:750.70px;top:589.06px;width:13.60px;height:13.60px;background:#ebc17b;border:1px solid #a88535;"></div>
<div class="t" style="top:590.13px;font-size:13.5px;color:#7f7f7f;letter-spacing:-0.55px;right:458.20px;text-align:right;">-3%</div>
<div class="d" style="left:825.90px;top:592.46px;width:10.00px;height:10.00px;background:#dc502c;border:1px solid #9e351b;"></div>
<div class="t" style="top:590.13px;font-size:13.5px;color:#7f7f7f;letter-spacing:-0.55px;right:379.30px;text-align:right;">62%</div>
<div class="d" style="left:904.80px;top:592.46px;width:10.00px;height:10.00px;background:#dc502c;border:1px solid #9e351b;"></div>
<div class="d" style="left:1077.25px;top:589.01px;width:11.70px;height:11.70px;background:#c64a49;"></div>
<div class="d" style="left:1091.42px;top:589.01px;width:11.70px;height:11.70px;background:#c64a49;"></div>
<div class="d" style="left:1105.59px;top:589.01px;width:11.70px;height:11.70px;background:#c64a49;"></div>
<div class="d" style="left:1119.76px;top:589.01px;width:11.70px;height:11.70px;background:#c64a49;"></div>
<div class="d" style="left:1133.93px;top:589.01px;width:11.70px;height:11.70px;background:#c64a49;"></div>
<div class="d" style="left:1148.10px;top:589.01px;width:11.70px;height:11.70px;background:#f79646;"></div>
<div class="d" style="left:1162.27px;top:589.01px;width:11.70px;height:11.70px;background:#f79646;"></div>
<div class="d" style="left:1176.44px;top:589.01px;width:11.70px;height:11.70px;background:#f79646;"></div>
<div class="d" style="left:1190.61px;top:589.01px;width:11.70px;height:11.70px;background:#f79646;"></div>
<div class="d" style="left:1204.78px;top:589.01px;width:11.70px;height:11.70px;background:#84ad45;"></div>
<div class="d" style="left:1218.95px;top:589.01px;width:11.70px;height:11.70px;background:#84ad45;"></div>
<div class="d" style="left:1233.12px;top:589.01px;width:11.70px;height:11.70px;background:#84ad45;"></div>
<div class="t" style="top:617.22px;font-size:13px;color:#111;right:1235.80px;text-align:right;">18</div>
<div class="d" style="left:166.10px;top:615.72px;width:13.60px;height:13.60px;background:#ebc17b;border:1px solid #a88535;"></div>
<div class="d" style="left:205.00px;top:615.62px;width:13.80px;height:13.80px;background:#5ea28a;border:1px solid #3a725f;"></div>
<div class="t" style="top:616.79px;font-size:13.5px;color:#7f7f7f;letter-spacing:-0.55px;right:1008.10px;text-align:right;">6%</div>
<div class="d" style="left:276.00px;top:619.12px;width:10.00px;height:10.00px;background:#5ea28a;border:1px solid #3a725f;"></div>
<div class="t" style="top:616.79px;font-size:13.5px;color:#7f7f7f;letter-spacing:-0.55px;right:945.10px;text-align:right;">3%</div>
<div class="d" style="left:338.80px;top:619.12px;width:10.00px;height:10.00px;background:#5ea28a;border:1px solid #3a725f;"></div>
<div class="t" style="top:616.79px;font-size:13.5px;color:#7f7f7f;letter-spacing:-0.55px;right:878.80px;text-align:right;">262%</div>
<div class="d" style="left:405.50px;top:619.12px;width:10.00px;height:10.00px;background:#5ea28a;border:1px solid #3a725f;"></div>
<div class="t" style="top:616.79px;font-size:13.5px;color:#7f7f7f;letter-spacing:-0.55px;right:807.90px;text-align:right;">70%</div>
<div class="d" style="left:476.00px;top:619.12px;width:10.00px;height:10.00px;background:#5ea28a;border:1px solid #3a725f;"></div>
<div class="d" style="left:522.20px;top:615.72px;width:13.60px;height:13.60px;background:#ebc17b;border:1px solid #a88535;"></div>
<div class="t" style="top:616.79px;font-size:13.5px;color:#7f7f7f;letter-spacing:-0.55px;right:691.00px;text-align:right;">-2%</div>
<div class="d" style="left:593.20px;top:619.32px;width:9.60px;height:9.60px;background:#dc502c;border:1px solid #9e351b;"></div>
<div class="t" style="top:618.06px;font-size:12px;color:#e9eeed;right:639.00px;text-align:right;">2%</div>
<div class="t" style="top:616.79px;font-size:13.5px;color:#7f7f7f;letter-spacing:-0.55px;right:594.70px;text-align:right;">8%</div>
<div class="d" style="left:689.60px;top:615.92px;width:13.20px;height:13.20px;background:#5ea28a;border:1px solid #3a725f;"></div>
<div class="t" style="top:618.06px;font-size:12px;color:#e9eeed;right:545.00px;text-align:right;">8%</div>
<div class="d" style="left:750.70px;top:615.72px;width:13.60px;height:13.60px;background:#dc502c;border:1px solid #9e351b;"></div>
<div class="t" style="top:616.79px;font-size:13.5px;color:#7f7f7f;letter-spacing:-0.55px;right:458.20px;text-align:right;">-3%</div>
<div class="d" style="left:825.90px;top:619.12px;width:10.00px;height:10.00px;background:#dc502c;border:1px solid #9e351b;"></div>
<div class="t" style="top:616.79px;font-size:13.5px;color:#7f7f7f;letter-spacing:-0.55px;right:379.30px;text-align:right;">34%</div>
<div class="d" style="left:904.80px;top:619.12px;width:10.00px;height:10.00px;background:#dc502c;border:1px solid #9e351b;"></div>
<div class="t" style="top:616.79px;font-size:13.5px;color:#7f7f7f;letter-spacing:-0.55px;right:242.00px;text-align:right;">-25%</div>
<div class="d" style="left:1042.60px;top:619.62px;width:9.00px;height:9.00px;background:#dc502c;border:1px solid #9e351b;"></div>
<div class="d" style="left:1077.25px;top:615.67px;width:11.70px;height:11.70px;background:#f79646;"></div>
<div class="d" style="left:1091.42px;top:615.67px;width:11.70px;height:11.70px;background:#f79646;"></div>
<div class="d" style="left:1105.59px;top:615.67px;width:11.70px;height:11.70px;background:#ffff00;"></div>
<div class="d" style="left:1119.76px;top:615.67px;width:11.70px;height:11.70px;background:#ffff00;"></div>
<div class="d" style="left:1133.93px;top:615.67px;width:11.70px;height:11.70px;background:#ffff00;"></div>
<div class="d" style="left:1148.10px;top:615.67px;width:11.70px;height:11.70px;background:#ffff00;"></div>
<div class="d" style="left:1162.27px;top:615.67px;width:11.70px;height:11.70px;background:#ffff00;"></div>
<div class="d" style="left:1176.44px;top:615.67px;width:11.70px;height:11.70px;background:#ffff00;"></div>
<div class="d" style="left:1190.61px;top:615.67px;width:11.70px;height:11.70px;background:#ffff00;"></div>
<div class="d" style="left:1204.78px;top:615.67px;width:11.70px;height:11.70px;background:#ffff00;"></div>
<div class="d" style="left:1218.95px;top:615.67px;width:11.70px;height:11.70px;background:#ffff00;"></div>
<div class="d" style="left:1233.12px;top:615.67px;width:11.70px;height:11.70px;background:#ffff00;"></div>
<div class="t" style="top:643.88px;font-size:13px;color:#111;right:1235.80px;text-align:right;">19</div>
<div class="d" style="left:166.10px;top:642.38px;width:13.60px;height:13.60px;background:#5ea28a;border:1px solid #3a725f;"></div>
<div class="d" style="left:205.00px;top:642.28px;width:13.80px;height:13.80px;background:#5ea28a;border:1px solid #3a725f;"></div>
<div class="t" style="top:643.45px;font-size:13.5px;color:#7f7f7f;letter-spacing:-0.55px;right:1008.10px;text-align:right;">22%</div>
<div class="d" style="left:276.00px;top:645.78px;width:10.00px;height:10.00px;background:#5ea28a;border:1px solid #3a725f;"></div>
<div class="t" style="top:643.45px;font-size:13.5px;color:#7f7f7f;letter-spacing:-0.55px;right:945.10px;text-align:right;">2%</div>
<div class="d" style="left:338.80px;top:645.78px;width:10.00px;height:10.00px;background:#5ea28a;border:1px solid #3a725f;"></div>
<div class="t" style="top:643.45px;font-size:13.5px;color:#7f7f7f;letter-spacing:-0.55px;right:878.80px;text-align:right;">49%</div>
<div class="d" style="left:405.50px;top:645.78px;width:10.00px;height:10.00px;background:#dc502c;border:1px solid #9e351b;"></div>
<div class="t" style="top:643.45px;font-size:13.5px;color:#7f7f7f;letter-spacing:-0.55px;right:807.90px;text-align:right;">37%</div>
<div class="d" style="left:476.00px;top:645.78px;width:10.00px;height:10.00px;background:#5ea28a;border:1px solid #3a725f;"></div>
<div class="d" style="left:522.20px;top:642.38px;width:13.60px;height:13.60px;background:#5ea28a;border:1px solid #3a725f;"></div>
<div class="t" style="top:643.45px;font-size:13.5px;color:#7f7f7f;letter-spacing:-0.55px;right:691.00px;text-align:right;">7%</div>
<div class="d" style="left:593.20px;top:645.98px;width:9.60px;height:9.60px;background:#5ea28a;border:1px solid #3a725f;"></div>
<div class="t" style="top:644.72px;font-size:12px;color:#e9eeed;right:639.00px;text-align:right;">7%</div>
<div class="t" style="top:643.45px;font-size:13.5px;color:#7f7f7f;letter-spacing:-0.55px;right:594.70px;text-align:right;">0%</div>
<div class="d" style="left:689.60px;top:642.58px;width:13.20px;height:13.20px;background:#5ea28a;border:1px solid #3a725f;"></div>
<div class="t" style="top:644.72px;font-size:12px;color:#e9eeed;right:545.00px;text-align:right;">0%</div>
<div class="d" style="left:750.70px;top:642.38px;width:13.60px;height:13.60px;background:#ebc17b;border:1px solid #a88535;"></div>
<div class="t" style="top:643.45px;font-size:13.5px;color:#7f7f7f;letter-spacing:-0.55px;right:458.20px;text-align:right;">0%</div>
<div class="d" style="left:825.90px;top:645.78px;width:10.00px;height:10.00px;background:#5ea28a;border:1px solid #3a725f;"></div>
<div class="t" style="top:643.45px;font-size:13.5px;color:#7f7f7f;letter-spacing:-0.55px;right:379.30px;text-align:right;">208%</div>
<div class="d" style="left:904.80px;top:645.78px;width:10.00px;height:10.00px;background:#dc502c;border:1px solid #9e351b;"></div>
<div class="t" style="top:643.45px;font-size:13.5px;color:#7f7f7f;letter-spacing:-0.55px;right:242.00px;text-align:right;">-8%</div>
<div class="d" style="left:1042.60px;top:646.28px;width:9.00px;height:9.00px;background:#dc502c;border:1px solid #9e351b;"></div>
<div class="d" style="left:1077.25px;top:642.33px;width:11.70px;height:11.70px;background:#ffff00;"></div>
<div class="d" style="left:1091.42px;top:642.33px;width:11.70px;height:11.70px;background:#ffff00;"></div>
<div class="d" style="left:1105.59px;top:642.33px;width:11.70px;height:11.70px;background:#ffff00;"></div>
<div class="d" style="left:1119.76px;top:642.33px;width:11.70px;height:11.70px;background:#ffff00;"></div>
<div class="d" style="left:1133.93px;top:642.33px;width:11.70px;height:11.70px;background:#f79646;"></div>
<div class="d" style="left:1148.10px;top:642.33px;width:11.70px;height:11.70px;background:#f79646;"></div>
<div class="d" style="left:1162.27px;top:642.33px;width:11.70px;height:11.70px;background:#ffff00;"></div>
<div class="d" style="left:1176.44px;top:642.33px;width:11.70px;height:11.70px;background:#84ad45;"></div>
<div class="d" style="left:1190.61px;top:642.33px;width:11.70px;height:11.70px;background:#84ad45;"></div>
<div class="d" style="left:1204.78px;top:642.33px;width:11.70px;height:11.70px;background:#84ad45;"></div>
<div class="d" style="left:1218.95px;top:642.33px;width:11.70px;height:11.70px;background:#84ad45;"></div>
<div class="d" style="left:1233.12px;top:642.33px;width:11.70px;height:11.70px;background:#84ad45;"></div>
<div class="r" style="left:0.00px;top:665.00px;width:1280.00px;height:7.00px;background:#2a7b51;"></div>
<div class="r" style="left:0.00px;top:664.60px;width:1280.00px;height:1.00px;background:#2f5f45;"></div>
<div class="r" style="left:0.00px;top:672.00px;width:1280.00px;height:48.00px;background:#1d5438;"></div>
<svg class="logo" width="110" height="60" viewBox="0 0 110 60" style="position:absolute;left:1165px;top:0px">
<circle cx="57" cy="21.6" r="15" fill="#137a63"/>
<circle cx="57" cy="21.6" r="11.1" fill="none" stroke="#8fd0c0" stroke-width="4.2" stroke-dasharray="58.6 11.1" stroke-dashoffset="-5.6"/>
<circle cx="57" cy="21.6" r="11.1" fill="none" stroke="#7cc2b1" stroke-width="0.6" stroke-dasharray="58.6 11.1" stroke-dashoffset="-5.6"/>
<circle cx="57" cy="21.6" r="5.9" fill="#93d3c3"/>
<path d="M55.3 17.6 C56.3 20 56.4 22.5 56.3 23.4 L54.3 23.4 C54.2 22.5 54.3 20 55.3 17.6 Z M58.7 17.6 C59.7 20 59.8 22.5 59.7 23.4 L57.7 23.4 C57.6 22.5 57.7 20 58.7 17.6 Z M55.3 23 V25.8 M58.7 23 V25.8" fill="#137a63" stroke="#137a63" stroke-width="0.6"/>
<text x="8.6" y="47.8" font-family="Liberation Sans, sans-serif" font-size="10.4" letter-spacing="1" textLength="97.5" lengthAdjust="spacingAndGlyphs" fill="#333">CONINAGRO</text>
<rect x="9" y="52.4" width="95" height="1.4" fill="#b0b0b0"/>
</svg>
<div class="t" style="top:16.65px;font-size:20.5px;color:#fbfffb;letter-spacing:0.85px;left:39.50px;">Datos Micro</div>
<div class="t" style="top:67.37px;font-size:13.5px;font-weight:bold;letter-spacing:-0.57px;left:49.60px;">may-21</div>
<div class="t" style="top:67.37px;font-size:13.5px;font-weight:bold;letter-spacing:-0.353px;left:205.60px;">Componente Negocio</div>
<div class="t" style="top:67.37px;font-size:13.5px;font-weight:bold;letter-spacing:-0.29px;left:522.50px;">Componente Productivo</div>
<div class="t" style="top:67.37px;font-size:13.5px;font-weight:bold;letter-spacing:0.034px;left:751.60px;">Componente Mercado <i style="font-weight:normal">(mes anterior)</i></div>
<div class="t" style="top:67.37px;font-size:13.5px;font-weight:bold;letter-spacing:-0.494px;left:1078.70px;">Evolución</div>
<div class="t" style="top:86.60px;font-size:13px;font-style:italic;letter-spacing:0.291px;left:233.80px;">Var. mensual</div>
<div class="t" style="top:86.60px;font-size:13px;font-style:italic;letter-spacing:0.4px;left:362.90px;">Var. interanual</div>
<div class="t" style="top:86.60px;font-size:13px;font-style:italic;letter-spacing:-0.027px;left:550.70px;">Vs 1 año ant</div>
<div class="t" style="top:86.60px;font-size:13px;font-style:italic;letter-spacing:0.127px;left:645.70px;">Vs 1 año ant</div>
<div class="t" style="top:86.60px;font-size:13px;font-style:italic;letter-spacing:0.316px;left:780.60px;">últ 12 m vs 12 m ant</div>
<div class="t" style="top:86.60px;font-size:13px;font-style:italic;letter-spacing:0.486px;left:989.20px;">Var. interanual</div>
<div class="t" style="top:104.80px;font-size:13px;color:#262626;letter-spacing:0.581px;left:49.60px;">Inflación</div>
<div class="t" style="top:104.80px;font-size:13px;color:#8c8c8c;letter-spacing:-0.35px;left:236.30px;">3,32%</div>
<div class="t" style="top:104.80px;font-size:13px;color:#8c8c8c;letter-spacing:-0.325px;left:365.30px;">48,8%</div>
<div class="t" style="top:105.89px;font-size:11px;letter-spacing:-0.134px;left:779.40px;">jun-20.may-21 vs jun-19.may-20</div>
<div class="t" style="top:106.49px;font-size:11px;letter-spacing:-0.207px;left:988.90px;">may-21 vs may-20</div>
<div class="t" style="top:124.80px;font-size:13px;font-weight:bold;letter-spacing:-0.294px;left:50.60px;">Actividad</div>
<div class="t" style="top:124.12px;font-size:13.8px;font-weight:bold;left:167.20px;transform:scaleX(0.767);transform-origin:0 0;">S</div>
<div class="t" style="top:125.82px;font-size:13.8px;font-weight:bold;left:204.56px;transform:scaleX(1.138);transform-origin:0 0;">N</div>
<div class="t" style="top:125.82px;font-size:13.8px;font-weight:bold;left:521.88px;transform:scaleX(0.925);transform-origin:0 0;">P</div>
<div class="t" style="top:125.82px;font-size:13.8px;font-weight:bold;left:750.69px;transform:scaleX(1.21);transform-origin:0 0;">M</div>
<div class="t" style="top:128.11px;font-size:10.5px;letter-spacing:0.82px;left:233.60px;">Precio</div>
<div class="t" style="top:128.11px;font-size:10.5px;letter-spacing:1.025px;left:303.40px;">Costo</div>
<div class="t" style="top:128.11px;font-size:10.5px;letter-spacing:0.82px;left:362.90px;">Precio</div>
<div class="t" style="top:128.11px;font-size:10.5px;letter-spacing:1.025px;left:437.00px;">Costo</div>
<div class="t" style="top:128.11px;font-size:10.5px;letter-spacing:0.944px;left:551.10px;">Area/Stock</div>
<div class="t" style="top:128.11px;font-size:10.5px;letter-spacing:1.056px;left:645.70px;">Producción</div>
<div class="t" style="top:128.11px;font-size:10.5px;letter-spacing:0.6px;left:779.60px;">Expo</div>
<div class="t" style="top:128.11px;font-size:10.5px;letter-spacing:1.533px;left:856.50px;">Impo</div>
<div class="t" style="top:128.11px;font-size:10.5px;letter-spacing:0.767px;left:989.60px;">Consumo</div>
<div class="t" style="top:128.11px;font-size:10.5px;letter-spacing:0.938px;left:1078.50px;">1 año ant</div>
<div class="t" style="top:128.11px;font-size:10.5px;letter-spacing:0.9px;left:1209.00px;">Actual</div>
<div class="t" style="top:164.00px;font-size:13px;color:#111;letter-spacing:0.467px;left:50.60px;">Algodón</div>
<div class="t" style="top:190.66px;font-size:13px;color:#111;letter-spacing:0.325px;left:50.60px;">Arroz</div>
<div class="t" style="top:217.32px;font-size:13px;color:#111;letter-spacing:-0.333px;left:50.60px;">Aves</div>
<div class="t" style="top:243.98px;font-size:13px;color:#111;letter-spacing:0.55px;left:49.60px;">Bovinos</div>
<div class="t" style="top:270.64px;font-size:13px;color:#111;letter-spacing:0.157px;left:50.60px;">Cítricos Dulces</div>
<div class="t" style="top:297.30px;font-size:13px;color:#111;letter-spacing:0.5px;left:49.60px;">Forestal</div>
<div class="t" style="top:323.96px;font-size:13px;color:#111;letter-spacing:-0.06px;left:50.60px;">Granos</div>
<div class="t" style="top:350.62px;font-size:13px;color:#111;letter-spacing:0.322px;left:49.60px;">Hortalizas</div>
<div class="t" style="top:377.28px;font-size:13px;color:#111;letter-spacing:-0.175px;left:49.60px;">Leche</div>
<div class="t" style="top:403.94px;font-size:13px;color:#111;letter-spacing:0.543px;left:49.60px;">Mandioca</div>
<div class="t" style="top:430.60px;font-size:13px;color:#111;letter-spacing:0.767px;left:49.60px;">Maní</div>
<div class="t" style="top:457.26px;font-size:13px;color:#111;letter-spacing:1.1px;left:49.60px;">Miel</div>
<div class="t" style="top:483.92px;font-size:13px;color:#111;letter-spacing:0.15px;left:50.60px;">Ovino</div>
<div class="t" style="top:510.58px;font-size:13px;color:#111;letter-spacing:-0.4px;left:49.60px;">Papa</div>
<div class="t" style="top:537.24px;font-size:13px;color:#111;letter-spacing:0.12px;left:49.60px;">Peras y Manzanas</div>
<div class="t" style="top:563.90px;font-size:13px;color:#111;letter-spacing:0.229px;left:49.60px;">Porcinos</div>
<div class="t" style="top:590.56px;font-size:13px;color:#111;letter-spacing:0.18px;left:50.60px;">Tabaco</div>
<div class="t" style="top:617.22px;font-size:13px;color:#111;letter-spacing:0.509px;left:50.60px;">Vino y Mosto</div>
<div class="t" style="top:643.88px;font-size:13px;color:#111;letter-spacing:0.489px;left:50.60px;">Yerba Mate</div>
<div class="t" style="top:688.25px;font-size:20.5px;color:#f4fff8;letter-spacing:0.463px;left:15.20px;">Informe de JUNIO 2021 con Información a May-21. Área de Economía CONINAGRO</div>
<div class="t" style="top:688.25px;font-size:20.5px;color:#f4fff8;letter-spacing:0.308px;left:855.00px;">@scamposcarles</div>
</body></html>
